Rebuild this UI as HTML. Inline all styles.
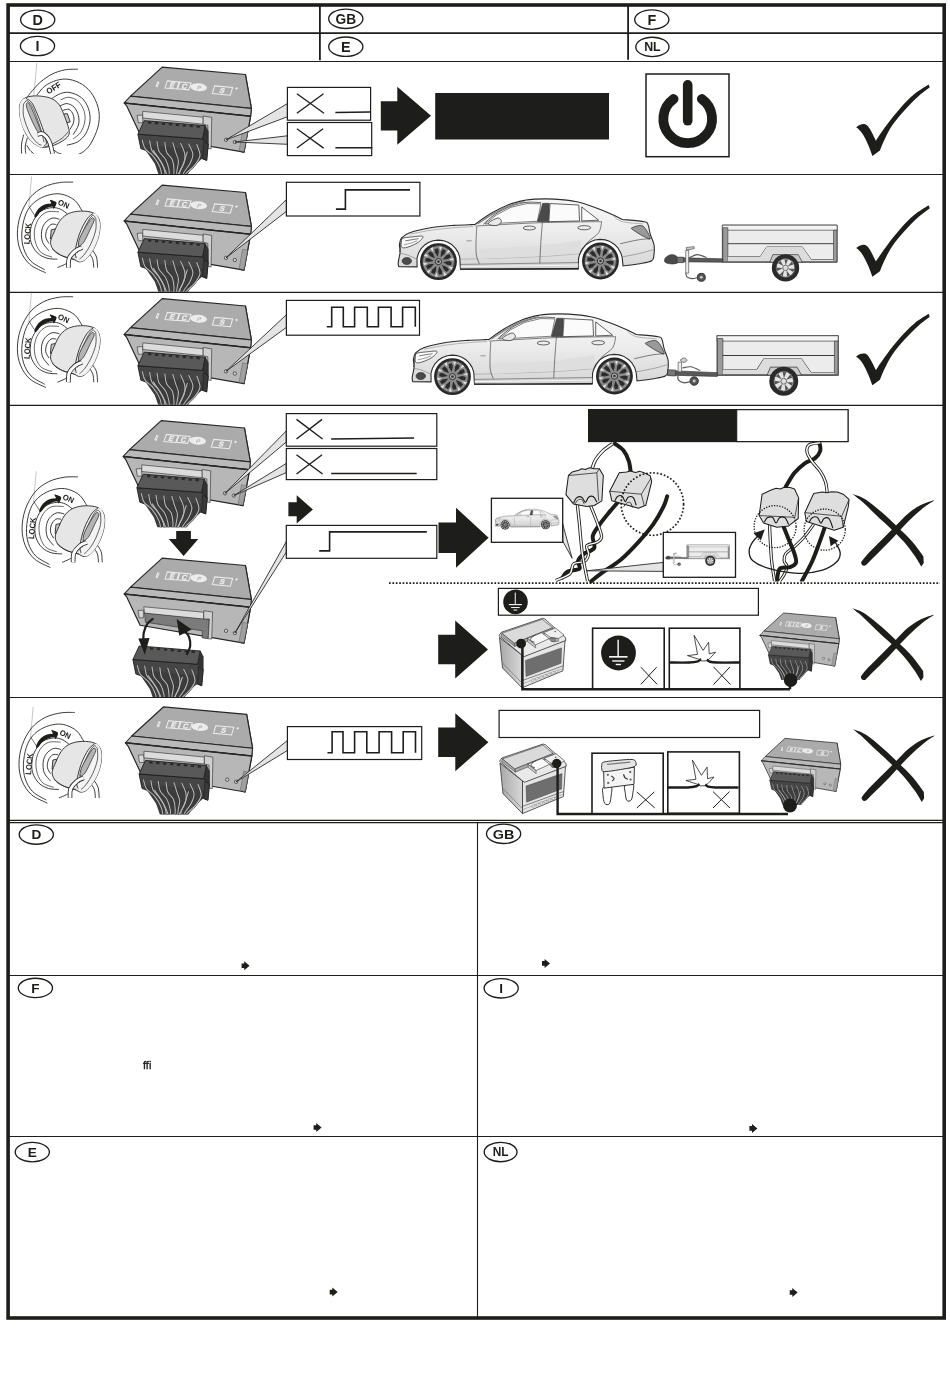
<!DOCTYPE html>
<html><head><meta charset="utf-8"><title>ECS</title>
<style>
html,body{margin:0;padding:0;background:#fff;}
body{width:950px;height:1378px;overflow:hidden;font-family:"Liberation Sans",sans-serif;}
svg{display:block;position:absolute;left:0;top:0;will-change:transform;font-family:"Liberation Sans",sans-serif;}
</style></head><body>
<svg width="950" height="1378" viewBox="0 0 950 1378">
<defs>
<clipPath id="cr1"><rect x="10" y="62" width="932" height="111.9"/></clipPath>
<clipPath id="cr2"><rect x="10" y="175" width="932" height="116.8"/></clipPath>
<clipPath id="cr3"><rect x="10" y="293" width="932" height="111.8"/></clipPath>
<clipPath id="cr4a"><rect x="10" y="406" width="932" height="121.3"/></clipPath>
<clipPath id="cr4b"><rect x="10" y="530" width="932" height="167"/></clipPath>
<clipPath id="cr5"><rect x="10" y="698" width="932" height="116.4"/></clipPath>
<clipPath id="kc1"><rect x="10" y="62" width="110" height="92"/></clipPath>
<g id="keyon"><g transform="translate(10 175) scale(0.10526)" ><path d="M205 15L180 300" fill="none" stroke="#777" stroke-width="4"/><path d="M180 300L235 385" fill="none" stroke="#262626" stroke-width="6"/><path d="M600 68C578.33 68.67 516.67 64.17 470 72C423.33 79.83 366.67 91.17 320 115C273.33 138.83 226.67 170.83 190 215C153.33 259.17 120 322.5 100 380C80 437.5 70 503.33 70 560C70 616.67 80 671.67 100 720C120 768.33 150 815 190 850C230 885 315 916.67 340 930" fill="none" stroke="#262626" stroke-width="8.5"/><path d="M685 340C674.17 324.17 647.5 270 620 245C592.5 220 553.33 200.83 520 190C486.67 179.17 456.67 175.83 420 180C383.33 184.17 336.67 196.67 300 215C263.33 233.33 226.67 259.17 200 290C173.33 320.83 154.67 355 140 400C125.33 445 113.67 510 112 560C110.33 610 115.33 656.67 130 700C144.67 743.33 166.67 786.67 200 820C233.33 853.33 308.33 886.67 330 900" fill="none" stroke="#262626" stroke-width="8.5"/><path d="M545 370C534.17 362.5 504.17 335 480 325C455.83 315 430 307.5 400 310C370 312.5 328.33 321.67 300 340C271.67 358.33 247.5 390 230 420C212.5 450 200 483.33 195 520C190 556.67 189.17 603.33 200 640C210.83 676.67 235 715 260 740C285 765 318.33 780 350 790C381.67 800 433.33 798.33 450 800" fill="none" stroke="#262626" stroke-width="8.5"/><path d="M465 350C445.83 350.33 382.5 340.33 350 352C317.5 363.67 289.67 390.33 270 420C250.33 449.67 236.17 491.67 232 530C227.83 568.33 233.67 615 245 650C256.33 685 274.17 718.33 300 740C325.83 761.67 383.33 773.33 400 780" fill="none" stroke="#262626" stroke-width="6.8"/><path d="M470 420C458.33 418.33 423.33 403.33 400 410C376.67 416.67 346.67 438.33 330 460C313.33 481.67 303.33 510 300 540C296.67 570 298.33 610 310 640C321.67 670 360 706.67 370 720" fill="none" stroke="#262626" stroke-width="8.5"/><path d="M440 470C431.67 470 405 461.67 390 470C375 478.33 358.33 500 350 520C341.67 540 336.67 568.33 340 590C343.33 611.67 365 640 370 650" fill="none" stroke="#262626" stroke-width="8.5"/><path d="M392 520L432 512L420 600L384 608Z" fill="#c8c8c8" stroke="#262626" stroke-width="8.5"/><path d="M232 388C235.33 374.67 253.67 338 270 320C286.33 302 309.67 288.67 330 280C350.33 271.33 383.67 275 392 268C400.33 261 372 239 380 238C388 237 433.67 248.67 440 262C446.33 275.33 424 311.67 418 318C412 324.33 417 300 404 300C391 300 359 309.67 340 318C321 326.33 305 336.33 290 350C275 363.67 259.67 393.67 250 400C240.33 406.33 228.67 401.33 232 388Z" fill="#1d1d1b"/><path d="M378 234L442 262L416 322Z" fill="#1d1d1b"/><path d="M450 880C461.67 875 503.67 858.67 520 850C536.33 841.33 543.33 831.67 548 828" fill="none" stroke="#262626" stroke-width="8.5"/><path d="M780 710C787 721.67 813.33 751.67 822 780C830.67 808.33 830.33 863.33 832 880" fill="none" stroke="#262626" stroke-width="8.5"/><path d="M748 740C754.33 750 778 776.67 786 800C794 823.33 794.33 866.67 796 880" fill="none" stroke="#262626" stroke-width="8.5"/><path d="M385 640C385 610 405.83 573.33 420 540C434.17 506.67 450 467.5 470 440C490 412.5 511.67 390.83 540 375C568.33 359.17 603.33 349.17 640 345C676.67 340.83 728.33 342.5 760 350C791.67 357.5 814.17 370 830 390C845.83 410 853.33 436.67 855 470C856.67 503.33 850.83 550 840 590C829.17 630 810 675 790 710C770 745 741.67 780.83 720 800C698.33 819.17 680 825 660 825C640 825 626.67 809.17 600 800C573.33 790.83 530 783.33 500 770C470 756.67 439.17 741.67 420 720C400.83 698.33 385 670 385 640Z" fill="#e6e6e6" stroke="#262626" stroke-width="8.5"/><path d="M790 365C773 369.67 751.67 387.5 730 420C708.33 452.5 678.33 510 660 560C641.67 610 625 681.67 620 720C615 758.33 623 773 630 790C637 807 647 820.33 662 822C677 823.67 698.67 818.67 720 800C741.33 781.33 770 745 790 710C810 675 829.17 630 840 590C850.83 550 856.33 503 855 470C853.67 437 842.83 409.5 832 392C821.17 374.5 807 360.33 790 365Z" fill="#f3f3f3"/><path d="M790 365C780 374.17 751.67 387.5 730 420C708.33 452.5 678.33 510 660 560C641.67 610 625 681.67 620 720C615 758.33 628.33 778.33 630 790" fill="none" stroke="#262626" stroke-width="8.5"/><path d="M815 410C810 405.83 798.33 378.33 785 385C771.67 391.67 755 412.5 735 450C715 487.5 680.83 561.67 665 610C649.17 658.33 644.17 718.33 640 740" fill="none" stroke="#262626" stroke-width="6.8"/><path d="M815 410C815 428.33 822.5 480 815 520C807.5 560 787.5 611.67 770 650C752.5 688.33 728.33 725 710 750C691.67 775 668.33 791.67 660 800" fill="none" stroke="#262626" stroke-width="6.8"/><path d="M775 410C788.33 400 802.5 411.67 800 430C797.5 448.33 776.67 485 760 520C743.33 555 718 614.67 700 640C682 665.33 658.33 678.67 652 672C645.67 665.33 650.67 630.33 662 600C673.33 569.67 701.17 521.67 720 490C738.83 458.33 761.67 420 775 410Z" fill="#b4b4b4" stroke="#262626" stroke-width="6.8"/><path d="M400 700C413.33 710 453.33 745 480 760C506.67 775 538.33 783.33 560 790C581.67 796.67 601.67 798.33 610 800" fill="none" stroke="#262626" stroke-width="6.8"/><path d="M555 880C556.17 865.33 551.17 818.33 562 792C572.83 765.67 599.67 739 620 722C640.33 705 673.33 695.33 684 690" fill="none" stroke="#262626" stroke-width="44"/><path d="M555 880C556.17 865.33 551.17 818.33 562 792C572.83 765.67 599.67 739 620 722C640.33 705 673.33 695.33 684 690" fill="none" stroke="#fff" stroke-width="28"/></g><text transform="translate(57.3 204.2) rotate(24)" font-size="8" font-weight="bold" fill="#1d1d1b" textLength="11.5" lengthAdjust="spacingAndGlyphs">ON</text><text transform="translate(29.4 244.6) rotate(-85)" font-size="8.2" font-weight="bold" fill="#1d1d1b" textLength="21.5" lengthAdjust="spacingAndGlyphs">LOCK</text></g>
<clipPath id="kc2"><rect x="10" y="175" width="110" height="98.5"/></clipPath>
<clipPath id="kc5"><rect x="10" y="698.2" width="110" height="120"/></clipPath>
<linearGradient id="carg" x1="0" y1="0" x2="0" y2="1"><stop offset="0" stop-color="#f8f8f8"/><stop offset="0.45" stop-color="#ededed"/><stop offset="1" stop-color="#d6d6d6"/></linearGradient>
<g id="car"><g transform="translate(395 190) scale(0.14736)" ><path d="M25 520C24.5 515 20.33 506.67 22 490C23.67 473.33 33.67 440 35 420C36.33 400 28.33 385.83 30 370C31.67 354.17 33.33 338.33 45 325C56.67 311.67 65.83 301.67 100 290C134.17 278.33 200 263.33 250 255C300 246.67 355 243.33 400 240C445 236.67 496.67 235.83 520 235C543.33 234.17 536.67 235 540 235C558.33 222.5 611.67 182.5 650 160C688.33 137.5 731.67 115 770 100C808.33 85 850 76.33 880 70C910 63.67 916.3 63.33 950 62C983.7 60.67 1035.17 59 1082.2 62C1129.23 65 1185.53 70.33 1232.2 80C1278.87 89.67 1320.53 105 1362.2 120C1403.87 135 1452.2 156.67 1482.2 170C1512.2 183.33 1532.2 195 1542.2 200C1567.2 202.5 1663.03 209.17 1692.2 215C1721.37 220.83 1710.53 220.83 1717.2 235C1723.87 249.17 1725.53 277.5 1732.2 300C1738.87 322.5 1753.03 346.67 1757.2 370C1761.37 393.33 1759.7 421.67 1757.2 440C1754.7 458.33 1758.03 470 1742.2 480C1726.37 490 1694.7 494.17 1662.2 500C1629.7 505.83 1566.37 512.5 1547.2 515L1541.92 458.95L1531.76 425.19L1514 394.73L1489.61 369.26L1459.96 350.18L1426.67 338.56L1391.58 335.02L1356.64 339.78L1323.78 352.56L1294.81 372.66L1271.33 398.96L1254.64 430.02L1245.66 464.12L1244.2 535L445 538L443 520L439.77 457.23L428.95 425.06L411.09 396.21L387.13 372.17L358.33 354.23L326.19 343.32L292.42 340.02L258.78 344.5L227.04 356.52L198.88 375.46L175.77 400.31L158.93 429.78L149.25 462.3L150 522L25 520Z" fill="url(#carg)" stroke="#2c2c2c" stroke-width="7.5" stroke-linejoin="round"/><path d="M445 505L1244.2 492L1244.2 535L445 538Z" fill="#d4d4d4" stroke="#2c2c2c" stroke-width="3"/><path d="M443 537L1246.2 534" fill="none" stroke="#222" stroke-width="8"/><path d="M445 520L1244.2 510" fill="none" stroke="#fff" stroke-width="5"/><path d="M445 470C487.5 468.67 610.47 465 700 462C789.53 459 901.83 456 982.2 452C1062.57 448 1137.2 441.33 1182.2 438C1227.2 434.67 1240.53 433 1252.2 432" fill="none" stroke="#9a9a9a" stroke-width="4"/><path d="M560 400L982.2 380L1262.2 340L1252.2 430L982.2 450L560 468Z" fill="#dedede"/><path d="M600 232C613.33 220.83 650 185 680 165C710 145 745 125.5 780 112C815 98.5 854.63 88.33 890 84C925.37 79.67 975.17 85.67 992.2 86" fill="none" stroke="#2c2c2c" stroke-width="5"/><path d="M612 230L690 168L785 118L895 92L990.2 94L966.2 212L700 226Z" fill="#fbfbfb" stroke="#2c2c2c" stroke-width="4"/><path d="M560 230C576.67 219.17 625 185 660 165C695 145 733.33 124.17 770 110C806.67 95.83 861.67 85 880 80" fill="none" stroke="#888" stroke-width="10"/><path d="M1002.2 90L1047.2 90L1042.2 215L967.2 215Z" fill="#4a4a4a" stroke="#222" stroke-width="3"/><path d="M1052.2 92L1247.2 102L1252.2 210L1044.2 215Z" fill="#fbfbfb" stroke="#2c2c2c" stroke-width="5"/><path d="M1267.2 115L1382.2 205L1267.2 210Z" fill="#fbfbfb" stroke="#2c2c2c" stroke-width="5"/><path d="M545 245C570.83 243.5 627.13 239.83 700 236C772.87 232.17 885.17 225.33 982.2 222C1079.23 218.67 1212.2 217.17 1282.2 216C1352.2 214.83 1382.2 215.17 1402.2 215" fill="none" stroke="#2c2c2c" stroke-width="4"/><path d="M555 250C554.17 266.67 550.5 318.33 550 350C549.5 381.67 548.33 415 552 440C555.67 465 568.67 490 572 500" fill="none" stroke="#2c2c2c" stroke-width="4"/><path d="M1000.2 218C998.53 240 993.2 303.83 990.2 350C987.2 396.17 983.53 470.83 982.2 495" fill="none" stroke="#2c2c2c" stroke-width="4"/><path d="M1402.2 215C1398.87 227.5 1398.87 265.83 1382.2 290C1365.53 314.17 1323.53 335 1302.2 360C1280.87 385 1262.2 426.67 1254.2 440" fill="none" stroke="#2c2c2c" stroke-width="4"/><ellipse cx="912" cy="258" rx="42" ry="13" fill="#efefef" stroke="#2c2c2c" stroke-width="5"/><ellipse cx="1284.2" cy="256" rx="44" ry="14" fill="#efefef" stroke="#2c2c2c" stroke-width="5"/><path d="M640 218C649.67 210.33 686.33 190.5 700 190C713.67 189.5 723.33 206.67 722 215C720.67 223.33 705.33 236.5 692 240C678.67 243.5 650.67 239.67 642 236C633.33 232.33 630.33 225.67 640 218Z" fill="#e8e8e8" stroke="#2c2c2c" stroke-width="5"/><path d="M45 332C58.33 321.67 95.83 320.67 120 318C144.17 315.33 185 309 190 316C195 323 170 347.33 150 360C130 372.67 88.33 388.67 70 392C51.67 395.33 44.17 390 40 380C35.83 370 31.67 342.33 45 332Z" fill="#fafafa" stroke="#2c2c2c" stroke-width="5"/><path d="M70 345C80 343.33 115 337.5 130 335C145 332.5 155 330.83 160 330" fill="none" stroke="#444" stroke-width="5"/><path d="M60 372C68.33 370 95 364.5 110 360C125 355.5 143.33 347.5 150 345" fill="none" stroke="#555" stroke-width="4"/><path d="M45 332C44.17 340 42.5 365.33 40 380C37.5 394.67 31.67 413.33 30 420" fill="none" stroke="#2c2c2c" stroke-width="5"/><path d="M100 300C125 295.33 200 279.33 250 272C300 264.67 353.33 260 400 256C446.67 252 508.33 249.33 530 248" fill="none" stroke="#8a8a8a" stroke-width="4"/><ellipse cx="80" cy="482" rx="32" ry="24" fill="#4a4a4a" stroke="#222" stroke-width="4"/><path d="M32 430C40 431.67 60.33 433.33 80 440C99.67 446.67 138.33 465 150 470" fill="none" stroke="#777" stroke-width="4"/><path d="M485 345L520 345" fill="none" stroke="#888" stroke-width="6"/><path d="M1607.2 257C1617.2 252 1661.37 232.83 1682.2 245C1703.03 257.17 1732.2 318.83 1732.2 330C1732.2 341.17 1700.53 321.17 1682.2 312C1663.87 302.83 1634.7 284.17 1622.2 275C1609.7 265.83 1597.2 262 1607.2 257Z" fill="#9a9a9a" stroke="#2c2c2c" stroke-width="5"/><path d="M1527.2 365C1546.37 360.83 1608.03 345.83 1642.2 340C1676.37 334.17 1717.2 331.67 1732.2 330" fill="none" stroke="#2c2c2c" stroke-width="4"/><path d="M1537.2 455C1558.03 450.83 1626.03 438.33 1662.2 430C1698.37 421.67 1738.87 409.17 1754.2 405" fill="none" stroke="#777" stroke-width="4"/><path d="M1482.2 178C1492.2 184.17 1508.87 206.33 1542.2 215C1575.53 223.67 1658.87 227.5 1682.2 230" fill="none" stroke="#888" stroke-width="4"/><circle cx="295" cy="486" r="125" fill="#262626"/><circle cx="295" cy="486" r="108.75" fill="#8a8a8a"/><path d="M327.14 490.86L362.42 482.63L384.98 487.8L381.49 510.87L358.41 509.15Z" fill="#2b2b2b"/><path d="M362.06 519.58L394.28 523.84L384.79 542.81Z" fill="#e2e2e2"/><path d="M318.14 508.82L351.52 522.9L366.74 540.35L350.36 556.96L332.69 542Z" fill="#2b2b2b"/><path d="M329.52 552.58L353.08 574.97L334.24 584.74Z" fill="#e2e2e2"/><path d="M300.31 518.06L319.04 549.07L321.09 572.13L298.07 575.95L292.58 553.46Z" fill="#2b2b2b"/><path d="M283.79 560.16L289.69 592.12L268.71 588.95Z" fill="#e2e2e2"/><path d="M280.45 515.06L277.38 551.16L265.48 571.02L244.62 560.58L253.39 539.15Z" fill="#2b2b2b"/><path d="M242.34 539.41L228.33 568.73L213.22 553.83Z" fill="#e2e2e2"/><path d="M266.15 500.96L242.44 528.36L221.15 537.43L210.4 516.72L230.1 504.54Z" fill="#2b2b2b"/><path d="M221.01 498.26L192.44 513.74L188.97 492.81Z" fill="#e2e2e2"/><path d="M262.86 481.14L227.58 489.37L205.02 484.2L208.51 461.13L231.59 462.85Z" fill="#2b2b2b"/><path d="M227.94 452.42L195.72 448.16L205.21 429.19Z" fill="#e2e2e2"/><path d="M271.86 463.18L238.48 449.1L223.26 431.65L239.64 415.04L257.31 430Z" fill="#2b2b2b"/><path d="M260.48 419.42L236.92 397.03L255.76 387.26Z" fill="#e2e2e2"/><path d="M289.69 453.94L270.96 422.93L268.91 399.87L291.93 396.05L297.42 418.54Z" fill="#2b2b2b"/><path d="M306.21 411.84L300.31 379.88L321.29 383.05Z" fill="#e2e2e2"/><path d="M309.55 456.94L312.62 420.84L324.52 400.98L345.38 411.42L336.61 432.85Z" fill="#2b2b2b"/><path d="M347.66 432.59L361.67 403.27L376.78 418.17Z" fill="#e2e2e2"/><path d="M323.85 471.04L347.56 443.64L368.85 434.57L379.6 455.28L359.9 467.46Z" fill="#2b2b2b"/><path d="M368.99 473.74L397.56 458.26L401.03 479.19Z" fill="#e2e2e2"/><circle cx="295" cy="486" r="108.75" fill="none" stroke="#333" stroke-width="5"/><circle cx="295" cy="486" r="21.25" fill="#a8a8a8" stroke="#2a2a2a" stroke-width="6.25"/><circle cx="295" cy="486" r="8.75" fill="#333"/><circle cx="1394.2" cy="482" r="125" fill="#262626"/><circle cx="1394.2" cy="482" r="108.75" fill="#8a8a8a"/><path d="M1426.34 486.86L1461.62 478.63L1484.18 483.8L1480.69 506.87L1457.61 505.15Z" fill="#2b2b2b"/><path d="M1461.26 515.58L1493.48 519.84L1483.99 538.81Z" fill="#e2e2e2"/><path d="M1417.34 504.82L1450.72 518.9L1465.94 536.35L1449.56 552.96L1431.89 538Z" fill="#2b2b2b"/><path d="M1428.72 548.58L1452.28 570.97L1433.44 580.74Z" fill="#e2e2e2"/><path d="M1399.51 514.06L1418.24 545.07L1420.29 568.13L1397.27 571.95L1391.78 549.46Z" fill="#2b2b2b"/><path d="M1382.99 556.16L1388.89 588.12L1367.91 584.95Z" fill="#e2e2e2"/><path d="M1379.65 511.06L1376.58 547.16L1364.68 567.02L1343.82 556.58L1352.59 535.15Z" fill="#2b2b2b"/><path d="M1341.54 535.41L1327.53 564.73L1312.42 549.83Z" fill="#e2e2e2"/><path d="M1365.35 496.96L1341.64 524.36L1320.35 533.43L1309.6 512.72L1329.3 500.54Z" fill="#2b2b2b"/><path d="M1320.21 494.26L1291.64 509.74L1288.17 488.81Z" fill="#e2e2e2"/><path d="M1362.06 477.14L1326.78 485.37L1304.22 480.2L1307.71 457.13L1330.79 458.85Z" fill="#2b2b2b"/><path d="M1327.14 448.42L1294.92 444.16L1304.41 425.19Z" fill="#e2e2e2"/><path d="M1371.06 459.18L1337.68 445.1L1322.46 427.65L1338.84 411.04L1356.51 426Z" fill="#2b2b2b"/><path d="M1359.68 415.42L1336.12 393.03L1354.96 383.26Z" fill="#e2e2e2"/><path d="M1388.89 449.94L1370.16 418.93L1368.11 395.87L1391.13 392.05L1396.62 414.54Z" fill="#2b2b2b"/><path d="M1405.41 407.84L1399.51 375.88L1420.49 379.05Z" fill="#e2e2e2"/><path d="M1408.75 452.94L1411.82 416.84L1423.72 396.98L1444.58 407.42L1435.81 428.85Z" fill="#2b2b2b"/><path d="M1446.86 428.59L1460.87 399.27L1475.98 414.17Z" fill="#e2e2e2"/><path d="M1423.05 467.04L1446.76 439.64L1468.05 430.57L1478.8 451.28L1459.1 463.46Z" fill="#2b2b2b"/><path d="M1468.19 469.74L1496.76 454.26L1500.23 475.19Z" fill="#e2e2e2"/><circle cx="1394.2" cy="482" r="108.75" fill="none" stroke="#333" stroke-width="5"/><circle cx="1394.2" cy="482" r="21.25" fill="#a8a8a8" stroke="#2a2a2a" stroke-width="6.25"/><circle cx="1394.2" cy="482" r="8.75" fill="#333"/></g></g>
<g id="trbox"><g transform="translate(655 210) scale(0.21053)" ><path d="M320 72L865 72L865 248L320 248Z" fill="#ececec" stroke="#3a3a3a" stroke-width="4.5"/><path d="M320 72L865 72L865 96L320 96Z" fill="#f4f4f4" stroke="#3a3a3a" stroke-width="3"/><path d="M322 84L346 84L346 246L322 246Z" fill="#9b9b9b" stroke="#3a3a3a" stroke-width="3"/><path d="M848 96L864 96L864 246L848 246Z" fill="#9b9b9b" stroke="#3a3a3a" stroke-width="3"/><path d="M346 160L848 160" fill="none" stroke="#3a3a3a" stroke-width="4.5"/><path d="M346 222L500 222L530 176L700 176L742 236L848 236" fill="none" stroke="#3a3a3a" stroke-width="4.5"/><path d="M346 222L500 222L530 176L700 176L742 236L848 236L848 246L346 246Z" fill="#dcdcdc"/><path d="M346 246L848 246" fill="none" stroke="#3a3a3a" stroke-width="4"/><path d="M545 248L560 212L680 212L700 248Z" fill="#c9c9c9" stroke="#3a3a3a" stroke-width="3.5"/><circle cx="620" cy="275" r="65" fill="#2a2a2a"/><circle cx="620" cy="275" r="44.2" fill="#e4e4e4" stroke="#555" stroke-width="3.9"/><path d="M632.42 278.84L661.39 279.15L656.51 294.94Z" fill="#555"/><path d="M624.74 287.11L642.56 309.95L627.17 315.98Z" fill="#555"/><path d="M613.49 286.25L606.74 314.43L592.43 306.15Z" fill="#555"/><path d="M607.14 276.93L580.9 289.22L578.45 272.87Z" fill="#555"/><path d="M610.48 266.15L584.51 253.3L595.76 241.19Z" fill="#555"/><path d="M620.98 262.04L614.84 233.72L631.32 234.97Z" fill="#555"/><path d="M630.75 267.69L649.05 245.23L658.35 258.89Z" fill="#555"/><circle cx="620" cy="275" r="13" fill="#ddd" stroke="#444" stroke-width="3.25"/></g></g>
<clipPath id="cr4w"><rect x="740" y="436" width="150" height="145.5"/></clipPath>
<linearGradient id="batl" x1="0" y1="0" x2="1" y2="0"><stop offset="0" stop-color="#a8a8a8"/><stop offset="1" stop-color="#d8d8d8"/></linearGradient>
<g id="batt"><g transform="translate(490 610) scale(0.09473)" ><path d="M100 290L338 478L338 822L132 612Z" fill="url(#batl)" stroke="#2a2a2a" stroke-width="8" stroke-linejoin="round"/><path d="M338 478L792 322L770 642L338 822Z" fill="#e6e6e6" stroke="#2a2a2a" stroke-width="8" stroke-linejoin="round"/><path d="M375 532L755 400L750 562L380 702Z" fill="#6e6e6e" stroke="#444" stroke-width="5"/><path d="M340 745L770 590" fill="none" stroke="#2a2a2a" stroke-width="6"/><path d="M340 780L770 618" fill="none" stroke="#777" stroke-width="5"/><path d="M440 735L466 725L466 747L440 757Z" fill="#fafafa" stroke="#555" stroke-width="4"/><path d="M482 719.5L508 709.5L508 731.5L482 741.5Z" fill="#fafafa" stroke="#555" stroke-width="4"/><path d="M524 704L550 694L550 716L524 726Z" fill="#fafafa" stroke="#555" stroke-width="4"/><path d="M566 688.5L592 678.5L592 700.5L566 710.5Z" fill="#fafafa" stroke="#555" stroke-width="4"/><path d="M608 673L634 663L634 685L608 695Z" fill="#fafafa" stroke="#555" stroke-width="4"/><path d="M650 657.5L676 647.5L676 669.5L650 679.5Z" fill="#fafafa" stroke="#555" stroke-width="4"/><path d="M692 642L718 632L718 654L692 664Z" fill="#fafafa" stroke="#555" stroke-width="4"/><path d="M132 560L338 770" fill="none" stroke="#666" stroke-width="6"/><path d="M95 270L120 235L555 88L580 95L797 292L800 322L360 492L332 472Z" fill="#e9e9e9" stroke="#2a2a2a" stroke-width="8" stroke-linejoin="round"/><path d="M125 245L552 98L662 188L255 352Z" fill="#dadada" stroke="#2a2a2a" stroke-width="6" stroke-linejoin="round"/><path d="M255 352L662 188L668 215L262 385Z" fill="#a8a8a8" stroke="#2a2a2a" stroke-width="5"/><path d="M125 245L255 352L262 385L118 275Z" fill="#a8a8a8" stroke="#2a2a2a" stroke-width="5"/><path d="M565 238L692 190L782 265L722 302L640 290Z" fill="#efefef" stroke="#2a2a2a" stroke-width="6" stroke-linejoin="round"/><path d="M640 290L722 302L722 330L650 330Z" fill="#bbb" stroke="#2a2a2a" stroke-width="5"/><path d="M395 300L545 240L625 302L480 368Z" fill="#fafafa" stroke="#2a2a2a" stroke-width="6" stroke-linejoin="round"/><path d="M395 300L480 368L482 400L398 335Z" fill="#c8c8c8" stroke="#2a2a2a" stroke-width="5"/><path d="M480 262C473.33 266.67 448.33 280.33 440 290C431.67 299.67 425 311.67 430 320C435 328.33 463.33 336.67 470 340" fill="none" stroke="#444" stroke-width="10"/><path d="M620 300L690 300L690 335L650 335Z" fill="#888" stroke="#2a2a2a" stroke-width="4"/><circle cx="688" cy="228" r="8" fill="#555"/></g></g>
<clipPath id="crs4"><rect x="740" y="585" width="200" height="95"/></clipPath>
<clipPath id="crs5"><rect x="740" y="700" width="200" height="105"/></clipPath>
</defs>
<rect x="8.1" y="5" width="936.1" height="1313" fill="none" stroke="#1d1d1b" stroke-width="3.6"/>
<line x1="8" y1="33.1" x2="944" y2="33.1" stroke="#1d1d1b" stroke-width="1.8"/>
<line x1="8" y1="61.5" x2="944" y2="61.5" stroke="#1d1d1b" stroke-width="1.1"/>
<line x1="319.9" y1="6" x2="319.9" y2="60.3" stroke="#1d1d1b" stroke-width="1.8"/>
<line x1="628.1" y1="6" x2="628.1" y2="59.7" stroke="#1d1d1b" stroke-width="1.8"/>
<line x1="8" y1="174.5" x2="944" y2="174.5" stroke="#1d1d1b" stroke-width="1.1"/>
<line x1="8" y1="292.4" x2="944" y2="292.4" stroke="#1d1d1b" stroke-width="1.1"/>
<line x1="8" y1="405.4" x2="944" y2="405.4" stroke="#1d1d1b" stroke-width="1.1"/>
<line x1="8" y1="697.5" x2="944" y2="697.5" stroke="#1d1d1b" stroke-width="1.1"/>
<line x1="8" y1="820.4" x2="944" y2="820.4" stroke="#1d1d1b" stroke-width="1.1"/>
<line x1="8" y1="822.6" x2="944" y2="822.6" stroke="#1d1d1b" stroke-width="1.1"/>
<line x1="477.5" y1="822" x2="477.5" y2="1317" stroke="#1d1d1b" stroke-width="1.1"/>
<line x1="8" y1="975.5" x2="944" y2="975.5" stroke="#1d1d1b" stroke-width="1.1"/>
<line x1="8" y1="1136.5" x2="944" y2="1136.5" stroke="#1d1d1b" stroke-width="1.1"/>
<ellipse cx="37.7" cy="19.8" rx="17.1" ry="9.7" fill="#fff" stroke="#1d1d1b" stroke-width="1.35"/><text x="37.7" y="24.98" font-size="14.4" font-weight="bold" text-anchor="middle" fill="#1d1d1b">D</text>
<ellipse cx="37.5" cy="46" rx="17.1" ry="9.7" fill="#fff" stroke="#1d1d1b" stroke-width="1.35"/><text x="37.5" y="51.18" font-size="14.4" font-weight="bold" text-anchor="middle" fill="#1d1d1b">I</text>
<ellipse cx="345.8" cy="18.8" rx="17.1" ry="9.7" fill="#fff" stroke="#1d1d1b" stroke-width="1.35"/><text x="345.8" y="24.06" font-size="14.6" font-weight="bold" text-anchor="middle" fill="#1d1d1b" textLength="20.6" lengthAdjust="spacingAndGlyphs">GB</text>
<ellipse cx="345.8" cy="46.7" rx="17.1" ry="9.7" fill="#fff" stroke="#1d1d1b" stroke-width="1.35"/><text x="345.8" y="51.88" font-size="14.4" font-weight="bold" text-anchor="middle" fill="#1d1d1b">E</text>
<ellipse cx="651.8" cy="19.6" rx="17.1" ry="9.7" fill="#fff" stroke="#1d1d1b" stroke-width="1.35"/><text x="651.8" y="24.78" font-size="14.4" font-weight="bold" text-anchor="middle" fill="#1d1d1b">F</text>
<ellipse cx="652.4" cy="46.9" rx="16.6" ry="9.7" fill="#fff" stroke="#1d1d1b" stroke-width="1.35"/><text x="652.4" y="51.36" font-size="12.4" font-weight="bold" text-anchor="middle" fill="#1d1d1b">NL</text>
<ellipse cx="36.3" cy="834.5" rx="17.1" ry="9.7" fill="#fff" stroke="#1d1d1b" stroke-width="1.35"/><text x="36.3" y="839.4" font-size="13.6" font-weight="bold" text-anchor="middle" fill="#1d1d1b">D</text>
<ellipse cx="503.6" cy="833.8" rx="17.1" ry="9.7" fill="#fff" stroke="#1d1d1b" stroke-width="1.35"/><text x="503.6" y="838.7" font-size="13.6" font-weight="bold" text-anchor="middle" fill="#1d1d1b" textLength="21.5" lengthAdjust="spacingAndGlyphs">GB</text>
<ellipse cx="35.4" cy="987.9" rx="17.1" ry="9.7" fill="#fff" stroke="#1d1d1b" stroke-width="1.35"/><text x="35.4" y="992.8" font-size="13.6" font-weight="bold" text-anchor="middle" fill="#1d1d1b">F</text>
<ellipse cx="501.2" cy="988.3" rx="17.1" ry="9.7" fill="#fff" stroke="#1d1d1b" stroke-width="1.35"/><text x="501.2" y="993.2" font-size="13.6" font-weight="bold" text-anchor="middle" fill="#1d1d1b">I</text>
<ellipse cx="32.3" cy="1152.1" rx="17.1" ry="9.7" fill="#fff" stroke="#1d1d1b" stroke-width="1.35"/><text x="32.3" y="1157" font-size="13.6" font-weight="bold" text-anchor="middle" fill="#1d1d1b">E</text>
<ellipse cx="500.6" cy="1152" rx="16.4" ry="9.7" fill="#fff" stroke="#1d1d1b" stroke-width="1.35"/><text x="500.6" y="1156.28" font-size="11.9" font-weight="bold" text-anchor="middle" fill="#1d1d1b">NL</text>
<path d="M241.6 963.5L244.2 963.5L244.2 961.3L249.6 965.8L244.2 970.3L244.2 968.1L241.6 968.1Z" fill="#1d1d1b"/>
<path d="M542 961.1L544.6 961.1L544.6 958.9L550 963.4L544.6 967.9L544.6 965.7L542 965.7Z" fill="#1d1d1b"/>
<path d="M313.6 1125.2L316.2 1125.2L316.2 1123L321.6 1127.5L316.2 1132L316.2 1129.8L313.6 1129.8Z" fill="#1d1d1b"/>
<path d="M749.4 1126.1L752 1126.1L752 1123.9L757.4 1128.4L752 1132.9L752 1130.7L749.4 1130.7Z" fill="#1d1d1b"/>
<path d="M329.7 1289.8L332.3 1289.8L332.3 1287.6L337.7 1292.1L332.3 1296.6L332.3 1294.4L329.7 1294.4Z" fill="#1d1d1b"/>
<path d="M789.7 1290.2L792.3 1290.2L792.3 1288L797.7 1292.5L792.3 1297L792.3 1294.8L789.7 1294.8Z" fill="#1d1d1b"/>
<text x="143" y="1068.7" font-size="11" fill="#1d1d1b" stroke="#1d1d1b" stroke-width="0.35">ffi</text>
<g clip-path="url(#cr1)"><g transform="translate(118 62) scale(0.14736)" ><path d="M865 85L905 315L900 368L855 612L838 608L868 365L872 318Z" fill="#8c8c8c" stroke="#262626" stroke-width="8" stroke-linejoin="round"/><path d="M300 35L865 85L905 315L85 232Z" fill="#ababab" stroke="#262626" stroke-width="8" stroke-linejoin="round"/><path d="M85 232L905 315L900 368L42 278Z" fill="#b9b9b9" stroke="#262626" stroke-width="7" stroke-linejoin="round"/><path d="M42 278L900 368L855 612L150 490L60 300Z" fill="#b7b7b7" stroke="#262626" stroke-width="8" stroke-linejoin="round"/><path d="M845 470L880 478L855 608L822 602Z" fill="#a0a0a0" stroke="#555" stroke-width="3"/><path d="M42 278L900 368" fill="none" stroke="#262626" stroke-width="9"/><path d="M335 128L415 135.2L399 183.2L319 176Z" fill="none" stroke="#ececec" stroke-width="7"/><path d="M420 136L496 142.84L480 188.84L404 182Z" fill="none" stroke="#ececec" stroke-width="7"/><ellipse cx="547" cy="171" rx="57" ry="27" fill="#ececec" transform="rotate(5 547 171)"/><path d="M656 162L778 172.98L762 224.98L640 214Z" fill="none" stroke="#ececec" stroke-width="7"/><g font-weight="bold" fill="#ececec" font-size="50" stroke="#ececec" stroke-width="2"><text transform="matrix(1 0.09 -0.34 0.95 346 172)">E</text><text transform="matrix(1 0.09 -0.34 0.95 428 180)">C</text><text transform="matrix(1 0.09 -0.34 0.95 686 209)">S</text><text transform="matrix(1 0.09 -0.34 0.95 532 186)" fill="#8a8a8a" font-size="40">P</text><text transform="matrix(0.3 -0.9 0.9 0.3 268 172)" font-size="20">ECS</text><text transform="matrix(1 0.09 -0.34 0.95 792 188)" font-size="30">+</text></g><circle cx="733" cy="528" r="11.5" fill="#d0d0d0" stroke="#262626" stroke-width="4.5"/><circle cx="793" cy="543" r="11.5" fill="#d0d0d0" stroke="#262626" stroke-width="4.5"/><path d="M130 362L168 360L168 412L138 412Z" fill="#d9d9d9" stroke="#262626" stroke-width="4"/><path d="M168 335L578 375L578 422L168 380Z" fill="#dcdcdc" stroke="#262626" stroke-width="4"/><path d="M578 366L636 376L632 590L610 586L610 430L578 422Z" fill="#cfcfcf" stroke="#262626" stroke-width="4"/><path d="M135 490L575 522L612 560L602 668L560 652L545 612L330 596L205 606L155 588Z" fill="#464646" stroke="#1c1c1c" stroke-width="6" stroke-linejoin="round"/><path d="M160 560L590 600L590 640L505 712L448 800L288 800L250 690Z" fill="#3c3c3c"/><path d="M165 530C168.33 540 172.5 571.67 185 590C197.5 608.33 223.33 619.17 240 640C256.67 660.83 274.67 688.33 285 715C295.33 741.67 299.17 785.83 302 800" fill="none" stroke="#2a2a2a" stroke-width="12" stroke-linecap="round"/><path d="M215 535C217.5 545.83 220 580.5 230 600C240 619.5 261.33 631.67 275 652C288.67 672.33 303.83 697.33 312 722C320.17 746.67 322 787 324 800" fill="none" stroke="#2a2a2a" stroke-width="12" stroke-linecap="round"/><path d="M265 540C267.17 551 268.5 586 278 606C287.5 626 310.67 639.33 322 660C333.33 680.67 341.67 706.67 346 730C350.33 753.33 347.67 788.33 348 800" fill="none" stroke="#2a2a2a" stroke-width="12" stroke-linecap="round"/><path d="M318 545C320 556.17 321.67 592.5 330 612C338.33 631.5 359.67 642.33 368 662C376.33 681.67 379 707 380 730C381 753 375 788.33 374 800" fill="none" stroke="#2a2a2a" stroke-width="12" stroke-linecap="round"/><path d="M372 548C375.33 559.17 385.67 594.67 392 615C398.33 635.33 408.67 649.5 410 670C411.33 690.5 402.67 716.33 400 738C397.33 759.67 395 789.67 394 800" fill="none" stroke="#2a2a2a" stroke-width="12" stroke-linecap="round"/><path d="M425 552C429.5 563.33 447.83 598.67 452 620C456.17 641.33 455 660 450 680C445 700 428.33 720 422 740C415.67 760 413.67 790 412 800" fill="none" stroke="#2a2a2a" stroke-width="12" stroke-linecap="round"/><path d="M480 556C484.67 567.5 506.67 602.67 508 625C509.33 647.33 498 669.5 488 690C478 710.5 458.33 729.67 448 748C437.67 766.33 429.67 791.33 426 800" fill="none" stroke="#2a2a2a" stroke-width="12" stroke-linecap="round"/><path d="M535 560C538.5 572.5 558.5 611.67 556 635C553.5 658.33 535.67 679.83 520 700C504.33 720.17 475.33 739.33 462 756C448.67 772.67 443.67 792.67 440 800" fill="none" stroke="#2a2a2a" stroke-width="12" stroke-linecap="round"/><path d="M240 600C250 615 285 663.33 300 690C315 716.67 324 741.67 330 760C336 778.33 335 793.33 336 800" fill="none" stroke="#2a2a2a" stroke-width="12" stroke-linecap="round"/><path d="M470 610C465 625 450.83 673.33 440 700C429.17 726.67 411.67 753.33 405 770C398.33 786.67 400.83 795 400 800" fill="none" stroke="#2a2a2a" stroke-width="12" stroke-linecap="round"/><path d="M165 530C168.33 540 172.5 571.67 185 590C197.5 608.33 223.33 619.17 240 640C256.67 660.83 274.67 688.33 285 715C295.33 741.67 299.17 785.83 302 800" fill="none" stroke="#b4b4b4" stroke-width="8" stroke-linecap="round"/><path d="M215 535C217.5 545.83 220 580.5 230 600C240 619.5 261.33 631.67 275 652C288.67 672.33 303.83 697.33 312 722C320.17 746.67 322 787 324 800" fill="none" stroke="#b4b4b4" stroke-width="8" stroke-linecap="round"/><path d="M265 540C267.17 551 268.5 586 278 606C287.5 626 310.67 639.33 322 660C333.33 680.67 341.67 706.67 346 730C350.33 753.33 347.67 788.33 348 800" fill="none" stroke="#b4b4b4" stroke-width="8" stroke-linecap="round"/><path d="M318 545C320 556.17 321.67 592.5 330 612C338.33 631.5 359.67 642.33 368 662C376.33 681.67 379 707 380 730C381 753 375 788.33 374 800" fill="none" stroke="#b4b4b4" stroke-width="8" stroke-linecap="round"/><path d="M372 548C375.33 559.17 385.67 594.67 392 615C398.33 635.33 408.67 649.5 410 670C411.33 690.5 402.67 716.33 400 738C397.33 759.67 395 789.67 394 800" fill="none" stroke="#b4b4b4" stroke-width="8" stroke-linecap="round"/><path d="M425 552C429.5 563.33 447.83 598.67 452 620C456.17 641.33 455 660 450 680C445 700 428.33 720 422 740C415.67 760 413.67 790 412 800" fill="none" stroke="#b4b4b4" stroke-width="8" stroke-linecap="round"/><path d="M480 556C484.67 567.5 506.67 602.67 508 625C509.33 647.33 498 669.5 488 690C478 710.5 458.33 729.67 448 748C437.67 766.33 429.67 791.33 426 800" fill="none" stroke="#b4b4b4" stroke-width="8" stroke-linecap="round"/><path d="M535 560C538.5 572.5 558.5 611.67 556 635C553.5 658.33 535.67 679.83 520 700C504.33 720.17 475.33 739.33 462 756C448.67 772.67 443.67 792.67 440 800" fill="none" stroke="#b4b4b4" stroke-width="8" stroke-linecap="round"/><path d="M240 600C250 615 285 663.33 300 690C315 716.67 324 741.67 330 760C336 778.33 335 793.33 336 800" fill="none" stroke="#b4b4b4" stroke-width="8" stroke-linecap="round"/><path d="M470 610C465 625 450.83 673.33 440 700C429.17 726.67 411.67 753.33 405 770C398.33 786.67 400.83 795 400 800" fill="none" stroke="#b4b4b4" stroke-width="8" stroke-linecap="round"/><path d="M178 398L592 432L575 522L135 490Z" fill="#595959" stroke="#1c1c1c" stroke-width="6" stroke-linejoin="round"/><path d="M205 402L227 404L225 420L203 418Z" fill="#2a2a2a"/><path d="M252 405.9L274 407.9L272 423.9L250 421.9Z" fill="#2a2a2a"/><path d="M299 409.8L321 411.8L319 427.8L297 425.8Z" fill="#2a2a2a"/><path d="M346 413.7L368 415.7L366 431.7L344 429.7Z" fill="#2a2a2a"/><path d="M393 417.6L415 419.6L413 435.6L391 433.6Z" fill="#2a2a2a"/><path d="M440 421.5L462 423.5L460 439.5L438 437.5Z" fill="#2a2a2a"/><path d="M487 425.4L509 427.4L507 443.4L485 441.4Z" fill="#2a2a2a"/><path d="M534 429.3L556 431.3L554 447.3L532 445.3Z" fill="#2a2a2a"/><path d="M575 522L592 432L612 470L612 560Z" fill="#333" stroke="#1c1c1c" stroke-width="4"/><path d="M612 560L602 668L575 655L580 540Z" fill="#3a3a3a" stroke="#1c1c1c" stroke-width="4"/></g></g>
<g clip-path="url(#cr2)"><g transform="translate(118 180) scale(0.14736)" ><path d="M865 85L905 315L900 368L855 612L838 608L868 365L872 318Z" fill="#8c8c8c" stroke="#262626" stroke-width="8" stroke-linejoin="round"/><path d="M300 35L865 85L905 315L85 232Z" fill="#ababab" stroke="#262626" stroke-width="8" stroke-linejoin="round"/><path d="M85 232L905 315L900 368L42 278Z" fill="#b9b9b9" stroke="#262626" stroke-width="7" stroke-linejoin="round"/><path d="M42 278L900 368L855 612L150 490L60 300Z" fill="#b7b7b7" stroke="#262626" stroke-width="8" stroke-linejoin="round"/><path d="M845 470L880 478L855 608L822 602Z" fill="#a0a0a0" stroke="#555" stroke-width="3"/><path d="M42 278L900 368" fill="none" stroke="#262626" stroke-width="9"/><path d="M335 128L415 135.2L399 183.2L319 176Z" fill="none" stroke="#ececec" stroke-width="7"/><path d="M420 136L496 142.84L480 188.84L404 182Z" fill="none" stroke="#ececec" stroke-width="7"/><ellipse cx="547" cy="171" rx="57" ry="27" fill="#ececec" transform="rotate(5 547 171)"/><path d="M656 162L778 172.98L762 224.98L640 214Z" fill="none" stroke="#ececec" stroke-width="7"/><g font-weight="bold" fill="#ececec" font-size="50" stroke="#ececec" stroke-width="2"><text transform="matrix(1 0.09 -0.34 0.95 346 172)">E</text><text transform="matrix(1 0.09 -0.34 0.95 428 180)">C</text><text transform="matrix(1 0.09 -0.34 0.95 686 209)">S</text><text transform="matrix(1 0.09 -0.34 0.95 532 186)" fill="#8a8a8a" font-size="40">P</text><text transform="matrix(0.3 -0.9 0.9 0.3 268 172)" font-size="20">ECS</text><text transform="matrix(1 0.09 -0.34 0.95 792 188)" font-size="30">+</text></g><circle cx="733" cy="528" r="11.5" fill="#d0d0d0" stroke="#262626" stroke-width="4.5"/><circle cx="793" cy="543" r="11.5" fill="#d0d0d0" stroke="#262626" stroke-width="4.5"/><path d="M130 362L168 360L168 412L138 412Z" fill="#d9d9d9" stroke="#262626" stroke-width="4"/><path d="M168 335L578 375L578 422L168 380Z" fill="#dcdcdc" stroke="#262626" stroke-width="4"/><path d="M578 366L636 376L632 590L610 586L610 430L578 422Z" fill="#cfcfcf" stroke="#262626" stroke-width="4"/><path d="M135 490L575 522L612 560L602 668L560 652L545 612L330 596L205 606L155 588Z" fill="#464646" stroke="#1c1c1c" stroke-width="6" stroke-linejoin="round"/><path d="M160 560L590 600L590 640L505 712L448 800L288 800L250 690Z" fill="#3c3c3c"/><path d="M165 530C168.33 540 172.5 571.67 185 590C197.5 608.33 223.33 619.17 240 640C256.67 660.83 274.67 688.33 285 715C295.33 741.67 299.17 785.83 302 800" fill="none" stroke="#2a2a2a" stroke-width="12" stroke-linecap="round"/><path d="M215 535C217.5 545.83 220 580.5 230 600C240 619.5 261.33 631.67 275 652C288.67 672.33 303.83 697.33 312 722C320.17 746.67 322 787 324 800" fill="none" stroke="#2a2a2a" stroke-width="12" stroke-linecap="round"/><path d="M265 540C267.17 551 268.5 586 278 606C287.5 626 310.67 639.33 322 660C333.33 680.67 341.67 706.67 346 730C350.33 753.33 347.67 788.33 348 800" fill="none" stroke="#2a2a2a" stroke-width="12" stroke-linecap="round"/><path d="M318 545C320 556.17 321.67 592.5 330 612C338.33 631.5 359.67 642.33 368 662C376.33 681.67 379 707 380 730C381 753 375 788.33 374 800" fill="none" stroke="#2a2a2a" stroke-width="12" stroke-linecap="round"/><path d="M372 548C375.33 559.17 385.67 594.67 392 615C398.33 635.33 408.67 649.5 410 670C411.33 690.5 402.67 716.33 400 738C397.33 759.67 395 789.67 394 800" fill="none" stroke="#2a2a2a" stroke-width="12" stroke-linecap="round"/><path d="M425 552C429.5 563.33 447.83 598.67 452 620C456.17 641.33 455 660 450 680C445 700 428.33 720 422 740C415.67 760 413.67 790 412 800" fill="none" stroke="#2a2a2a" stroke-width="12" stroke-linecap="round"/><path d="M480 556C484.67 567.5 506.67 602.67 508 625C509.33 647.33 498 669.5 488 690C478 710.5 458.33 729.67 448 748C437.67 766.33 429.67 791.33 426 800" fill="none" stroke="#2a2a2a" stroke-width="12" stroke-linecap="round"/><path d="M535 560C538.5 572.5 558.5 611.67 556 635C553.5 658.33 535.67 679.83 520 700C504.33 720.17 475.33 739.33 462 756C448.67 772.67 443.67 792.67 440 800" fill="none" stroke="#2a2a2a" stroke-width="12" stroke-linecap="round"/><path d="M240 600C250 615 285 663.33 300 690C315 716.67 324 741.67 330 760C336 778.33 335 793.33 336 800" fill="none" stroke="#2a2a2a" stroke-width="12" stroke-linecap="round"/><path d="M470 610C465 625 450.83 673.33 440 700C429.17 726.67 411.67 753.33 405 770C398.33 786.67 400.83 795 400 800" fill="none" stroke="#2a2a2a" stroke-width="12" stroke-linecap="round"/><path d="M165 530C168.33 540 172.5 571.67 185 590C197.5 608.33 223.33 619.17 240 640C256.67 660.83 274.67 688.33 285 715C295.33 741.67 299.17 785.83 302 800" fill="none" stroke="#b4b4b4" stroke-width="8" stroke-linecap="round"/><path d="M215 535C217.5 545.83 220 580.5 230 600C240 619.5 261.33 631.67 275 652C288.67 672.33 303.83 697.33 312 722C320.17 746.67 322 787 324 800" fill="none" stroke="#b4b4b4" stroke-width="8" stroke-linecap="round"/><path d="M265 540C267.17 551 268.5 586 278 606C287.5 626 310.67 639.33 322 660C333.33 680.67 341.67 706.67 346 730C350.33 753.33 347.67 788.33 348 800" fill="none" stroke="#b4b4b4" stroke-width="8" stroke-linecap="round"/><path d="M318 545C320 556.17 321.67 592.5 330 612C338.33 631.5 359.67 642.33 368 662C376.33 681.67 379 707 380 730C381 753 375 788.33 374 800" fill="none" stroke="#b4b4b4" stroke-width="8" stroke-linecap="round"/><path d="M372 548C375.33 559.17 385.67 594.67 392 615C398.33 635.33 408.67 649.5 410 670C411.33 690.5 402.67 716.33 400 738C397.33 759.67 395 789.67 394 800" fill="none" stroke="#b4b4b4" stroke-width="8" stroke-linecap="round"/><path d="M425 552C429.5 563.33 447.83 598.67 452 620C456.17 641.33 455 660 450 680C445 700 428.33 720 422 740C415.67 760 413.67 790 412 800" fill="none" stroke="#b4b4b4" stroke-width="8" stroke-linecap="round"/><path d="M480 556C484.67 567.5 506.67 602.67 508 625C509.33 647.33 498 669.5 488 690C478 710.5 458.33 729.67 448 748C437.67 766.33 429.67 791.33 426 800" fill="none" stroke="#b4b4b4" stroke-width="8" stroke-linecap="round"/><path d="M535 560C538.5 572.5 558.5 611.67 556 635C553.5 658.33 535.67 679.83 520 700C504.33 720.17 475.33 739.33 462 756C448.67 772.67 443.67 792.67 440 800" fill="none" stroke="#b4b4b4" stroke-width="8" stroke-linecap="round"/><path d="M240 600C250 615 285 663.33 300 690C315 716.67 324 741.67 330 760C336 778.33 335 793.33 336 800" fill="none" stroke="#b4b4b4" stroke-width="8" stroke-linecap="round"/><path d="M470 610C465 625 450.83 673.33 440 700C429.17 726.67 411.67 753.33 405 770C398.33 786.67 400.83 795 400 800" fill="none" stroke="#b4b4b4" stroke-width="8" stroke-linecap="round"/><path d="M178 398L592 432L575 522L135 490Z" fill="#595959" stroke="#1c1c1c" stroke-width="6" stroke-linejoin="round"/><path d="M205 402L227 404L225 420L203 418Z" fill="#2a2a2a"/><path d="M252 405.9L274 407.9L272 423.9L250 421.9Z" fill="#2a2a2a"/><path d="M299 409.8L321 411.8L319 427.8L297 425.8Z" fill="#2a2a2a"/><path d="M346 413.7L368 415.7L366 431.7L344 429.7Z" fill="#2a2a2a"/><path d="M393 417.6L415 419.6L413 435.6L391 433.6Z" fill="#2a2a2a"/><path d="M440 421.5L462 423.5L460 439.5L438 437.5Z" fill="#2a2a2a"/><path d="M487 425.4L509 427.4L507 443.4L485 441.4Z" fill="#2a2a2a"/><path d="M534 429.3L556 431.3L554 447.3L532 445.3Z" fill="#2a2a2a"/><path d="M575 522L592 432L612 470L612 560Z" fill="#333" stroke="#1c1c1c" stroke-width="4"/><path d="M612 560L602 668L575 655L580 540Z" fill="#3a3a3a" stroke="#1c1c1c" stroke-width="4"/></g></g>
<g clip-path="url(#cr3)"><g transform="translate(118 293.5) scale(0.14736)" ><path d="M865 85L905 315L900 368L855 612L838 608L868 365L872 318Z" fill="#8c8c8c" stroke="#262626" stroke-width="8" stroke-linejoin="round"/><path d="M300 35L865 85L905 315L85 232Z" fill="#ababab" stroke="#262626" stroke-width="8" stroke-linejoin="round"/><path d="M85 232L905 315L900 368L42 278Z" fill="#b9b9b9" stroke="#262626" stroke-width="7" stroke-linejoin="round"/><path d="M42 278L900 368L855 612L150 490L60 300Z" fill="#b7b7b7" stroke="#262626" stroke-width="8" stroke-linejoin="round"/><path d="M845 470L880 478L855 608L822 602Z" fill="#a0a0a0" stroke="#555" stroke-width="3"/><path d="M42 278L900 368" fill="none" stroke="#262626" stroke-width="9"/><path d="M335 128L415 135.2L399 183.2L319 176Z" fill="none" stroke="#ececec" stroke-width="7"/><path d="M420 136L496 142.84L480 188.84L404 182Z" fill="none" stroke="#ececec" stroke-width="7"/><ellipse cx="547" cy="171" rx="57" ry="27" fill="#ececec" transform="rotate(5 547 171)"/><path d="M656 162L778 172.98L762 224.98L640 214Z" fill="none" stroke="#ececec" stroke-width="7"/><g font-weight="bold" fill="#ececec" font-size="50" stroke="#ececec" stroke-width="2"><text transform="matrix(1 0.09 -0.34 0.95 346 172)">E</text><text transform="matrix(1 0.09 -0.34 0.95 428 180)">C</text><text transform="matrix(1 0.09 -0.34 0.95 686 209)">S</text><text transform="matrix(1 0.09 -0.34 0.95 532 186)" fill="#8a8a8a" font-size="40">P</text><text transform="matrix(0.3 -0.9 0.9 0.3 268 172)" font-size="20">ECS</text><text transform="matrix(1 0.09 -0.34 0.95 792 188)" font-size="30">+</text></g><circle cx="733" cy="528" r="11.5" fill="#d0d0d0" stroke="#262626" stroke-width="4.5"/><circle cx="793" cy="543" r="11.5" fill="#d0d0d0" stroke="#262626" stroke-width="4.5"/><path d="M130 362L168 360L168 412L138 412Z" fill="#d9d9d9" stroke="#262626" stroke-width="4"/><path d="M168 335L578 375L578 422L168 380Z" fill="#dcdcdc" stroke="#262626" stroke-width="4"/><path d="M578 366L636 376L632 590L610 586L610 430L578 422Z" fill="#cfcfcf" stroke="#262626" stroke-width="4"/><path d="M135 490L575 522L612 560L602 668L560 652L545 612L330 596L205 606L155 588Z" fill="#464646" stroke="#1c1c1c" stroke-width="6" stroke-linejoin="round"/><path d="M160 560L590 600L590 640L505 712L448 800L288 800L250 690Z" fill="#3c3c3c"/><path d="M165 530C168.33 540 172.5 571.67 185 590C197.5 608.33 223.33 619.17 240 640C256.67 660.83 274.67 688.33 285 715C295.33 741.67 299.17 785.83 302 800" fill="none" stroke="#2a2a2a" stroke-width="12" stroke-linecap="round"/><path d="M215 535C217.5 545.83 220 580.5 230 600C240 619.5 261.33 631.67 275 652C288.67 672.33 303.83 697.33 312 722C320.17 746.67 322 787 324 800" fill="none" stroke="#2a2a2a" stroke-width="12" stroke-linecap="round"/><path d="M265 540C267.17 551 268.5 586 278 606C287.5 626 310.67 639.33 322 660C333.33 680.67 341.67 706.67 346 730C350.33 753.33 347.67 788.33 348 800" fill="none" stroke="#2a2a2a" stroke-width="12" stroke-linecap="round"/><path d="M318 545C320 556.17 321.67 592.5 330 612C338.33 631.5 359.67 642.33 368 662C376.33 681.67 379 707 380 730C381 753 375 788.33 374 800" fill="none" stroke="#2a2a2a" stroke-width="12" stroke-linecap="round"/><path d="M372 548C375.33 559.17 385.67 594.67 392 615C398.33 635.33 408.67 649.5 410 670C411.33 690.5 402.67 716.33 400 738C397.33 759.67 395 789.67 394 800" fill="none" stroke="#2a2a2a" stroke-width="12" stroke-linecap="round"/><path d="M425 552C429.5 563.33 447.83 598.67 452 620C456.17 641.33 455 660 450 680C445 700 428.33 720 422 740C415.67 760 413.67 790 412 800" fill="none" stroke="#2a2a2a" stroke-width="12" stroke-linecap="round"/><path d="M480 556C484.67 567.5 506.67 602.67 508 625C509.33 647.33 498 669.5 488 690C478 710.5 458.33 729.67 448 748C437.67 766.33 429.67 791.33 426 800" fill="none" stroke="#2a2a2a" stroke-width="12" stroke-linecap="round"/><path d="M535 560C538.5 572.5 558.5 611.67 556 635C553.5 658.33 535.67 679.83 520 700C504.33 720.17 475.33 739.33 462 756C448.67 772.67 443.67 792.67 440 800" fill="none" stroke="#2a2a2a" stroke-width="12" stroke-linecap="round"/><path d="M240 600C250 615 285 663.33 300 690C315 716.67 324 741.67 330 760C336 778.33 335 793.33 336 800" fill="none" stroke="#2a2a2a" stroke-width="12" stroke-linecap="round"/><path d="M470 610C465 625 450.83 673.33 440 700C429.17 726.67 411.67 753.33 405 770C398.33 786.67 400.83 795 400 800" fill="none" stroke="#2a2a2a" stroke-width="12" stroke-linecap="round"/><path d="M165 530C168.33 540 172.5 571.67 185 590C197.5 608.33 223.33 619.17 240 640C256.67 660.83 274.67 688.33 285 715C295.33 741.67 299.17 785.83 302 800" fill="none" stroke="#b4b4b4" stroke-width="8" stroke-linecap="round"/><path d="M215 535C217.5 545.83 220 580.5 230 600C240 619.5 261.33 631.67 275 652C288.67 672.33 303.83 697.33 312 722C320.17 746.67 322 787 324 800" fill="none" stroke="#b4b4b4" stroke-width="8" stroke-linecap="round"/><path d="M265 540C267.17 551 268.5 586 278 606C287.5 626 310.67 639.33 322 660C333.33 680.67 341.67 706.67 346 730C350.33 753.33 347.67 788.33 348 800" fill="none" stroke="#b4b4b4" stroke-width="8" stroke-linecap="round"/><path d="M318 545C320 556.17 321.67 592.5 330 612C338.33 631.5 359.67 642.33 368 662C376.33 681.67 379 707 380 730C381 753 375 788.33 374 800" fill="none" stroke="#b4b4b4" stroke-width="8" stroke-linecap="round"/><path d="M372 548C375.33 559.17 385.67 594.67 392 615C398.33 635.33 408.67 649.5 410 670C411.33 690.5 402.67 716.33 400 738C397.33 759.67 395 789.67 394 800" fill="none" stroke="#b4b4b4" stroke-width="8" stroke-linecap="round"/><path d="M425 552C429.5 563.33 447.83 598.67 452 620C456.17 641.33 455 660 450 680C445 700 428.33 720 422 740C415.67 760 413.67 790 412 800" fill="none" stroke="#b4b4b4" stroke-width="8" stroke-linecap="round"/><path d="M480 556C484.67 567.5 506.67 602.67 508 625C509.33 647.33 498 669.5 488 690C478 710.5 458.33 729.67 448 748C437.67 766.33 429.67 791.33 426 800" fill="none" stroke="#b4b4b4" stroke-width="8" stroke-linecap="round"/><path d="M535 560C538.5 572.5 558.5 611.67 556 635C553.5 658.33 535.67 679.83 520 700C504.33 720.17 475.33 739.33 462 756C448.67 772.67 443.67 792.67 440 800" fill="none" stroke="#b4b4b4" stroke-width="8" stroke-linecap="round"/><path d="M240 600C250 615 285 663.33 300 690C315 716.67 324 741.67 330 760C336 778.33 335 793.33 336 800" fill="none" stroke="#b4b4b4" stroke-width="8" stroke-linecap="round"/><path d="M470 610C465 625 450.83 673.33 440 700C429.17 726.67 411.67 753.33 405 770C398.33 786.67 400.83 795 400 800" fill="none" stroke="#b4b4b4" stroke-width="8" stroke-linecap="round"/><path d="M178 398L592 432L575 522L135 490Z" fill="#595959" stroke="#1c1c1c" stroke-width="6" stroke-linejoin="round"/><path d="M205 402L227 404L225 420L203 418Z" fill="#2a2a2a"/><path d="M252 405.9L274 407.9L272 423.9L250 421.9Z" fill="#2a2a2a"/><path d="M299 409.8L321 411.8L319 427.8L297 425.8Z" fill="#2a2a2a"/><path d="M346 413.7L368 415.7L366 431.7L344 429.7Z" fill="#2a2a2a"/><path d="M393 417.6L415 419.6L413 435.6L391 433.6Z" fill="#2a2a2a"/><path d="M440 421.5L462 423.5L460 439.5L438 437.5Z" fill="#2a2a2a"/><path d="M487 425.4L509 427.4L507 443.4L485 441.4Z" fill="#2a2a2a"/><path d="M534 429.3L556 431.3L554 447.3L532 445.3Z" fill="#2a2a2a"/><path d="M575 522L592 432L612 470L612 560Z" fill="#333" stroke="#1c1c1c" stroke-width="4"/><path d="M612 560L602 668L575 655L580 540Z" fill="#3a3a3a" stroke="#1c1c1c" stroke-width="4"/></g></g>
<g clip-path="url(#cr4a)"><g transform="translate(117 415.5) scale(0.14736)" ><path d="M865 85L905 315L900 368L855 612L838 608L868 365L872 318Z" fill="#8c8c8c" stroke="#262626" stroke-width="8" stroke-linejoin="round"/><path d="M300 35L865 85L905 315L85 232Z" fill="#ababab" stroke="#262626" stroke-width="8" stroke-linejoin="round"/><path d="M85 232L905 315L900 368L42 278Z" fill="#b9b9b9" stroke="#262626" stroke-width="7" stroke-linejoin="round"/><path d="M42 278L900 368L855 612L150 490L60 300Z" fill="#b7b7b7" stroke="#262626" stroke-width="8" stroke-linejoin="round"/><path d="M845 470L880 478L855 608L822 602Z" fill="#a0a0a0" stroke="#555" stroke-width="3"/><path d="M42 278L900 368" fill="none" stroke="#262626" stroke-width="9"/><path d="M335 128L415 135.2L399 183.2L319 176Z" fill="none" stroke="#ececec" stroke-width="7"/><path d="M420 136L496 142.84L480 188.84L404 182Z" fill="none" stroke="#ececec" stroke-width="7"/><ellipse cx="547" cy="171" rx="57" ry="27" fill="#ececec" transform="rotate(5 547 171)"/><path d="M656 162L778 172.98L762 224.98L640 214Z" fill="none" stroke="#ececec" stroke-width="7"/><g font-weight="bold" fill="#ececec" font-size="50" stroke="#ececec" stroke-width="2"><text transform="matrix(1 0.09 -0.34 0.95 346 172)">E</text><text transform="matrix(1 0.09 -0.34 0.95 428 180)">C</text><text transform="matrix(1 0.09 -0.34 0.95 686 209)">S</text><text transform="matrix(1 0.09 -0.34 0.95 532 186)" fill="#8a8a8a" font-size="40">P</text><text transform="matrix(0.3 -0.9 0.9 0.3 268 172)" font-size="20">ECS</text><text transform="matrix(1 0.09 -0.34 0.95 792 188)" font-size="30">+</text></g><circle cx="733" cy="528" r="11.5" fill="#d0d0d0" stroke="#262626" stroke-width="4.5"/><circle cx="793" cy="543" r="11.5" fill="#d0d0d0" stroke="#262626" stroke-width="4.5"/><path d="M130 362L168 360L168 412L138 412Z" fill="#d9d9d9" stroke="#262626" stroke-width="4"/><path d="M168 335L578 375L578 422L168 380Z" fill="#dcdcdc" stroke="#262626" stroke-width="4"/><path d="M578 366L636 376L632 590L610 586L610 430L578 422Z" fill="#cfcfcf" stroke="#262626" stroke-width="4"/><path d="M135 490L575 522L612 560L602 668L560 652L545 612L330 596L205 606L155 588Z" fill="#464646" stroke="#1c1c1c" stroke-width="6" stroke-linejoin="round"/><path d="M160 560L590 600L590 640L505 712L448 800L288 800L250 690Z" fill="#3c3c3c"/><path d="M165 530C168.33 540 172.5 571.67 185 590C197.5 608.33 223.33 619.17 240 640C256.67 660.83 274.67 688.33 285 715C295.33 741.67 299.17 785.83 302 800" fill="none" stroke="#2a2a2a" stroke-width="12" stroke-linecap="round"/><path d="M215 535C217.5 545.83 220 580.5 230 600C240 619.5 261.33 631.67 275 652C288.67 672.33 303.83 697.33 312 722C320.17 746.67 322 787 324 800" fill="none" stroke="#2a2a2a" stroke-width="12" stroke-linecap="round"/><path d="M265 540C267.17 551 268.5 586 278 606C287.5 626 310.67 639.33 322 660C333.33 680.67 341.67 706.67 346 730C350.33 753.33 347.67 788.33 348 800" fill="none" stroke="#2a2a2a" stroke-width="12" stroke-linecap="round"/><path d="M318 545C320 556.17 321.67 592.5 330 612C338.33 631.5 359.67 642.33 368 662C376.33 681.67 379 707 380 730C381 753 375 788.33 374 800" fill="none" stroke="#2a2a2a" stroke-width="12" stroke-linecap="round"/><path d="M372 548C375.33 559.17 385.67 594.67 392 615C398.33 635.33 408.67 649.5 410 670C411.33 690.5 402.67 716.33 400 738C397.33 759.67 395 789.67 394 800" fill="none" stroke="#2a2a2a" stroke-width="12" stroke-linecap="round"/><path d="M425 552C429.5 563.33 447.83 598.67 452 620C456.17 641.33 455 660 450 680C445 700 428.33 720 422 740C415.67 760 413.67 790 412 800" fill="none" stroke="#2a2a2a" stroke-width="12" stroke-linecap="round"/><path d="M480 556C484.67 567.5 506.67 602.67 508 625C509.33 647.33 498 669.5 488 690C478 710.5 458.33 729.67 448 748C437.67 766.33 429.67 791.33 426 800" fill="none" stroke="#2a2a2a" stroke-width="12" stroke-linecap="round"/><path d="M535 560C538.5 572.5 558.5 611.67 556 635C553.5 658.33 535.67 679.83 520 700C504.33 720.17 475.33 739.33 462 756C448.67 772.67 443.67 792.67 440 800" fill="none" stroke="#2a2a2a" stroke-width="12" stroke-linecap="round"/><path d="M240 600C250 615 285 663.33 300 690C315 716.67 324 741.67 330 760C336 778.33 335 793.33 336 800" fill="none" stroke="#2a2a2a" stroke-width="12" stroke-linecap="round"/><path d="M470 610C465 625 450.83 673.33 440 700C429.17 726.67 411.67 753.33 405 770C398.33 786.67 400.83 795 400 800" fill="none" stroke="#2a2a2a" stroke-width="12" stroke-linecap="round"/><path d="M165 530C168.33 540 172.5 571.67 185 590C197.5 608.33 223.33 619.17 240 640C256.67 660.83 274.67 688.33 285 715C295.33 741.67 299.17 785.83 302 800" fill="none" stroke="#b4b4b4" stroke-width="8" stroke-linecap="round"/><path d="M215 535C217.5 545.83 220 580.5 230 600C240 619.5 261.33 631.67 275 652C288.67 672.33 303.83 697.33 312 722C320.17 746.67 322 787 324 800" fill="none" stroke="#b4b4b4" stroke-width="8" stroke-linecap="round"/><path d="M265 540C267.17 551 268.5 586 278 606C287.5 626 310.67 639.33 322 660C333.33 680.67 341.67 706.67 346 730C350.33 753.33 347.67 788.33 348 800" fill="none" stroke="#b4b4b4" stroke-width="8" stroke-linecap="round"/><path d="M318 545C320 556.17 321.67 592.5 330 612C338.33 631.5 359.67 642.33 368 662C376.33 681.67 379 707 380 730C381 753 375 788.33 374 800" fill="none" stroke="#b4b4b4" stroke-width="8" stroke-linecap="round"/><path d="M372 548C375.33 559.17 385.67 594.67 392 615C398.33 635.33 408.67 649.5 410 670C411.33 690.5 402.67 716.33 400 738C397.33 759.67 395 789.67 394 800" fill="none" stroke="#b4b4b4" stroke-width="8" stroke-linecap="round"/><path d="M425 552C429.5 563.33 447.83 598.67 452 620C456.17 641.33 455 660 450 680C445 700 428.33 720 422 740C415.67 760 413.67 790 412 800" fill="none" stroke="#b4b4b4" stroke-width="8" stroke-linecap="round"/><path d="M480 556C484.67 567.5 506.67 602.67 508 625C509.33 647.33 498 669.5 488 690C478 710.5 458.33 729.67 448 748C437.67 766.33 429.67 791.33 426 800" fill="none" stroke="#b4b4b4" stroke-width="8" stroke-linecap="round"/><path d="M535 560C538.5 572.5 558.5 611.67 556 635C553.5 658.33 535.67 679.83 520 700C504.33 720.17 475.33 739.33 462 756C448.67 772.67 443.67 792.67 440 800" fill="none" stroke="#b4b4b4" stroke-width="8" stroke-linecap="round"/><path d="M240 600C250 615 285 663.33 300 690C315 716.67 324 741.67 330 760C336 778.33 335 793.33 336 800" fill="none" stroke="#b4b4b4" stroke-width="8" stroke-linecap="round"/><path d="M470 610C465 625 450.83 673.33 440 700C429.17 726.67 411.67 753.33 405 770C398.33 786.67 400.83 795 400 800" fill="none" stroke="#b4b4b4" stroke-width="8" stroke-linecap="round"/><path d="M178 398L592 432L575 522L135 490Z" fill="#595959" stroke="#1c1c1c" stroke-width="6" stroke-linejoin="round"/><path d="M205 402L227 404L225 420L203 418Z" fill="#2a2a2a"/><path d="M252 405.9L274 407.9L272 423.9L250 421.9Z" fill="#2a2a2a"/><path d="M299 409.8L321 411.8L319 427.8L297 425.8Z" fill="#2a2a2a"/><path d="M346 413.7L368 415.7L366 431.7L344 429.7Z" fill="#2a2a2a"/><path d="M393 417.6L415 419.6L413 435.6L391 433.6Z" fill="#2a2a2a"/><path d="M440 421.5L462 423.5L460 439.5L438 437.5Z" fill="#2a2a2a"/><path d="M487 425.4L509 427.4L507 443.4L485 441.4Z" fill="#2a2a2a"/><path d="M534 429.3L556 431.3L554 447.3L532 445.3Z" fill="#2a2a2a"/><path d="M575 522L592 432L612 470L612 560Z" fill="#333" stroke="#1c1c1c" stroke-width="4"/><path d="M612 560L602 668L575 655L580 540Z" fill="#3a3a3a" stroke="#1c1c1c" stroke-width="4"/></g></g>
<g clip-path="url(#cr4b)"><g transform="translate(118 553) scale(0.14736)" ><path d="M865 85L905 315L900 368L855 612L838 608L868 365L872 318Z" fill="#8c8c8c" stroke="#262626" stroke-width="8" stroke-linejoin="round"/><path d="M300 35L865 85L905 315L85 232Z" fill="#ababab" stroke="#262626" stroke-width="8" stroke-linejoin="round"/><path d="M85 232L905 315L900 368L42 278Z" fill="#b9b9b9" stroke="#262626" stroke-width="7" stroke-linejoin="round"/><path d="M42 278L900 368L855 612L150 490L60 300Z" fill="#b7b7b7" stroke="#262626" stroke-width="8" stroke-linejoin="round"/><path d="M845 470L880 478L855 608L822 602Z" fill="#a0a0a0" stroke="#555" stroke-width="3"/><path d="M42 278L900 368" fill="none" stroke="#262626" stroke-width="9"/><path d="M335 128L415 135.2L399 183.2L319 176Z" fill="none" stroke="#ececec" stroke-width="7"/><path d="M420 136L496 142.84L480 188.84L404 182Z" fill="none" stroke="#ececec" stroke-width="7"/><ellipse cx="547" cy="171" rx="57" ry="27" fill="#ececec" transform="rotate(5 547 171)"/><path d="M656 162L778 172.98L762 224.98L640 214Z" fill="none" stroke="#ececec" stroke-width="7"/><g font-weight="bold" fill="#ececec" font-size="50" stroke="#ececec" stroke-width="2"><text transform="matrix(1 0.09 -0.34 0.95 346 172)">E</text><text transform="matrix(1 0.09 -0.34 0.95 428 180)">C</text><text transform="matrix(1 0.09 -0.34 0.95 686 209)">S</text><text transform="matrix(1 0.09 -0.34 0.95 532 186)" fill="#8a8a8a" font-size="40">P</text><text transform="matrix(0.3 -0.9 0.9 0.3 268 172)" font-size="20">ECS</text><text transform="matrix(1 0.09 -0.34 0.95 792 188)" font-size="30">+</text></g><circle cx="733" cy="528" r="11.5" fill="#d0d0d0" stroke="#262626" stroke-width="4.5"/><circle cx="793" cy="543" r="11.5" fill="#d0d0d0" stroke="#262626" stroke-width="4.5"/><path d="M136 390L172 388L172 440L144 440Z" fill="#d9d9d9" stroke="#262626" stroke-width="4"/><path d="M180 405L620 448L612 582L572 576L572 528L186 470Z" fill="#7b7b7b" stroke="#262626" stroke-width="4"/><path d="M175 365L582 402L582 448L180 408Z" fill="#dcdcdc" stroke="#262626" stroke-width="4"/><path d="M582 392L642 400L636 584L612 582L620 448L582 448Z" fill="#cfcfcf" stroke="#262626" stroke-width="4"/></g></g>
<g clip-path="url(#cr5)"><g transform="translate(119.2 701.8) scale(0.14736)" ><path d="M865 85L905 315L900 368L855 612L838 608L868 365L872 318Z" fill="#8c8c8c" stroke="#262626" stroke-width="8" stroke-linejoin="round"/><path d="M300 35L865 85L905 315L85 232Z" fill="#ababab" stroke="#262626" stroke-width="8" stroke-linejoin="round"/><path d="M85 232L905 315L900 368L42 278Z" fill="#b9b9b9" stroke="#262626" stroke-width="7" stroke-linejoin="round"/><path d="M42 278L900 368L855 612L150 490L60 300Z" fill="#b7b7b7" stroke="#262626" stroke-width="8" stroke-linejoin="round"/><path d="M845 470L880 478L855 608L822 602Z" fill="#a0a0a0" stroke="#555" stroke-width="3"/><path d="M42 278L900 368" fill="none" stroke="#262626" stroke-width="9"/><path d="M335 128L415 135.2L399 183.2L319 176Z" fill="none" stroke="#ececec" stroke-width="7"/><path d="M420 136L496 142.84L480 188.84L404 182Z" fill="none" stroke="#ececec" stroke-width="7"/><ellipse cx="547" cy="171" rx="57" ry="27" fill="#ececec" transform="rotate(5 547 171)"/><path d="M656 162L778 172.98L762 224.98L640 214Z" fill="none" stroke="#ececec" stroke-width="7"/><g font-weight="bold" fill="#ececec" font-size="50" stroke="#ececec" stroke-width="2"><text transform="matrix(1 0.09 -0.34 0.95 346 172)">E</text><text transform="matrix(1 0.09 -0.34 0.95 428 180)">C</text><text transform="matrix(1 0.09 -0.34 0.95 686 209)">S</text><text transform="matrix(1 0.09 -0.34 0.95 532 186)" fill="#8a8a8a" font-size="40">P</text><text transform="matrix(0.3 -0.9 0.9 0.3 268 172)" font-size="20">ECS</text><text transform="matrix(1 0.09 -0.34 0.95 792 188)" font-size="30">+</text></g><circle cx="733" cy="528" r="11.5" fill="#d0d0d0" stroke="#262626" stroke-width="4.5"/><circle cx="793" cy="543" r="11.5" fill="#d0d0d0" stroke="#262626" stroke-width="4.5"/><path d="M130 362L168 360L168 412L138 412Z" fill="#d9d9d9" stroke="#262626" stroke-width="4"/><path d="M168 335L578 375L578 422L168 380Z" fill="#dcdcdc" stroke="#262626" stroke-width="4"/><path d="M578 366L636 376L632 590L610 586L610 430L578 422Z" fill="#cfcfcf" stroke="#262626" stroke-width="4"/><path d="M135 490L575 522L612 560L602 668L560 652L545 612L330 596L205 606L155 588Z" fill="#464646" stroke="#1c1c1c" stroke-width="6" stroke-linejoin="round"/><path d="M160 560L590 600L590 640L505 712L448 800L288 800L250 690Z" fill="#3c3c3c"/><path d="M165 530C168.33 540 172.5 571.67 185 590C197.5 608.33 223.33 619.17 240 640C256.67 660.83 274.67 688.33 285 715C295.33 741.67 299.17 785.83 302 800" fill="none" stroke="#2a2a2a" stroke-width="12" stroke-linecap="round"/><path d="M215 535C217.5 545.83 220 580.5 230 600C240 619.5 261.33 631.67 275 652C288.67 672.33 303.83 697.33 312 722C320.17 746.67 322 787 324 800" fill="none" stroke="#2a2a2a" stroke-width="12" stroke-linecap="round"/><path d="M265 540C267.17 551 268.5 586 278 606C287.5 626 310.67 639.33 322 660C333.33 680.67 341.67 706.67 346 730C350.33 753.33 347.67 788.33 348 800" fill="none" stroke="#2a2a2a" stroke-width="12" stroke-linecap="round"/><path d="M318 545C320 556.17 321.67 592.5 330 612C338.33 631.5 359.67 642.33 368 662C376.33 681.67 379 707 380 730C381 753 375 788.33 374 800" fill="none" stroke="#2a2a2a" stroke-width="12" stroke-linecap="round"/><path d="M372 548C375.33 559.17 385.67 594.67 392 615C398.33 635.33 408.67 649.5 410 670C411.33 690.5 402.67 716.33 400 738C397.33 759.67 395 789.67 394 800" fill="none" stroke="#2a2a2a" stroke-width="12" stroke-linecap="round"/><path d="M425 552C429.5 563.33 447.83 598.67 452 620C456.17 641.33 455 660 450 680C445 700 428.33 720 422 740C415.67 760 413.67 790 412 800" fill="none" stroke="#2a2a2a" stroke-width="12" stroke-linecap="round"/><path d="M480 556C484.67 567.5 506.67 602.67 508 625C509.33 647.33 498 669.5 488 690C478 710.5 458.33 729.67 448 748C437.67 766.33 429.67 791.33 426 800" fill="none" stroke="#2a2a2a" stroke-width="12" stroke-linecap="round"/><path d="M535 560C538.5 572.5 558.5 611.67 556 635C553.5 658.33 535.67 679.83 520 700C504.33 720.17 475.33 739.33 462 756C448.67 772.67 443.67 792.67 440 800" fill="none" stroke="#2a2a2a" stroke-width="12" stroke-linecap="round"/><path d="M240 600C250 615 285 663.33 300 690C315 716.67 324 741.67 330 760C336 778.33 335 793.33 336 800" fill="none" stroke="#2a2a2a" stroke-width="12" stroke-linecap="round"/><path d="M470 610C465 625 450.83 673.33 440 700C429.17 726.67 411.67 753.33 405 770C398.33 786.67 400.83 795 400 800" fill="none" stroke="#2a2a2a" stroke-width="12" stroke-linecap="round"/><path d="M165 530C168.33 540 172.5 571.67 185 590C197.5 608.33 223.33 619.17 240 640C256.67 660.83 274.67 688.33 285 715C295.33 741.67 299.17 785.83 302 800" fill="none" stroke="#b4b4b4" stroke-width="8" stroke-linecap="round"/><path d="M215 535C217.5 545.83 220 580.5 230 600C240 619.5 261.33 631.67 275 652C288.67 672.33 303.83 697.33 312 722C320.17 746.67 322 787 324 800" fill="none" stroke="#b4b4b4" stroke-width="8" stroke-linecap="round"/><path d="M265 540C267.17 551 268.5 586 278 606C287.5 626 310.67 639.33 322 660C333.33 680.67 341.67 706.67 346 730C350.33 753.33 347.67 788.33 348 800" fill="none" stroke="#b4b4b4" stroke-width="8" stroke-linecap="round"/><path d="M318 545C320 556.17 321.67 592.5 330 612C338.33 631.5 359.67 642.33 368 662C376.33 681.67 379 707 380 730C381 753 375 788.33 374 800" fill="none" stroke="#b4b4b4" stroke-width="8" stroke-linecap="round"/><path d="M372 548C375.33 559.17 385.67 594.67 392 615C398.33 635.33 408.67 649.5 410 670C411.33 690.5 402.67 716.33 400 738C397.33 759.67 395 789.67 394 800" fill="none" stroke="#b4b4b4" stroke-width="8" stroke-linecap="round"/><path d="M425 552C429.5 563.33 447.83 598.67 452 620C456.17 641.33 455 660 450 680C445 700 428.33 720 422 740C415.67 760 413.67 790 412 800" fill="none" stroke="#b4b4b4" stroke-width="8" stroke-linecap="round"/><path d="M480 556C484.67 567.5 506.67 602.67 508 625C509.33 647.33 498 669.5 488 690C478 710.5 458.33 729.67 448 748C437.67 766.33 429.67 791.33 426 800" fill="none" stroke="#b4b4b4" stroke-width="8" stroke-linecap="round"/><path d="M535 560C538.5 572.5 558.5 611.67 556 635C553.5 658.33 535.67 679.83 520 700C504.33 720.17 475.33 739.33 462 756C448.67 772.67 443.67 792.67 440 800" fill="none" stroke="#b4b4b4" stroke-width="8" stroke-linecap="round"/><path d="M240 600C250 615 285 663.33 300 690C315 716.67 324 741.67 330 760C336 778.33 335 793.33 336 800" fill="none" stroke="#b4b4b4" stroke-width="8" stroke-linecap="round"/><path d="M470 610C465 625 450.83 673.33 440 700C429.17 726.67 411.67 753.33 405 770C398.33 786.67 400.83 795 400 800" fill="none" stroke="#b4b4b4" stroke-width="8" stroke-linecap="round"/><path d="M178 398L592 432L575 522L135 490Z" fill="#595959" stroke="#1c1c1c" stroke-width="6" stroke-linejoin="round"/><path d="M205 402L227 404L225 420L203 418Z" fill="#2a2a2a"/><path d="M252 405.9L274 407.9L272 423.9L250 421.9Z" fill="#2a2a2a"/><path d="M299 409.8L321 411.8L319 427.8L297 425.8Z" fill="#2a2a2a"/><path d="M346 413.7L368 415.7L366 431.7L344 429.7Z" fill="#2a2a2a"/><path d="M393 417.6L415 419.6L413 435.6L391 433.6Z" fill="#2a2a2a"/><path d="M440 421.5L462 423.5L460 439.5L438 437.5Z" fill="#2a2a2a"/><path d="M487 425.4L509 427.4L507 443.4L485 441.4Z" fill="#2a2a2a"/><path d="M534 429.3L556 431.3L554 447.3L532 445.3Z" fill="#2a2a2a"/><path d="M575 522L592 432L612 470L612 560Z" fill="#333" stroke="#1c1c1c" stroke-width="4"/><path d="M612 560L602 668L575 655L580 540Z" fill="#3a3a3a" stroke="#1c1c1c" stroke-width="4"/></g></g>
<path d="M226 139.8L287.4 103.6L287.4 116.8Z" fill="#e4e4e4" stroke="#2a2a2a" stroke-width="0.9" stroke-linejoin="round"/>
<path d="M234.9 142L287.4 135.8L287.4 144.3Z" fill="#e4e4e4" stroke="#2a2a2a" stroke-width="0.9" stroke-linejoin="round"/>
<path d="M226 257.8L286.4 199.6L286.4 211.4Z" fill="#e4e4e4" stroke="#2a2a2a" stroke-width="0.9" stroke-linejoin="round"/>
<path d="M226 371.3L286.4 314.7L286.4 327.4Z" fill="#e4e4e4" stroke="#2a2a2a" stroke-width="0.9" stroke-linejoin="round"/>
<path d="M225 493.3L286.3 430.9L286.3 442Z" fill="#e4e4e4" stroke="#2a2a2a" stroke-width="0.9" stroke-linejoin="round"/>
<path d="M233.9 495.5L286.3 463.4L286.3 472.6Z" fill="#e4e4e4" stroke="#2a2a2a" stroke-width="0.9" stroke-linejoin="round"/>
<path d="M234.9 633L286.3 541.6L286.3 552.1Z" fill="#e4e4e4" stroke="#2a2a2a" stroke-width="0.9" stroke-linejoin="round"/>
<path d="M236.1 781.8L287.4 740.5L287.4 750.5Z" fill="#e4e4e4" stroke="#2a2a2a" stroke-width="0.9" stroke-linejoin="round"/>
<g clip-path="url(#cr4b)"><g transform="translate(-5 34.3)"><g transform="translate(118 553) scale(0.14736)" ><path d="M135 490L575 522L612 560L602 668L560 652L545 612L330 596L205 606L155 588Z" fill="#464646" stroke="#1c1c1c" stroke-width="6" stroke-linejoin="round"/><path d="M160 560L590 600L590 640L505 712L448 800L288 800L250 690Z" fill="#3c3c3c"/><path d="M165 530C168.33 540 172.5 571.67 185 590C197.5 608.33 223.33 619.17 240 640C256.67 660.83 274.67 688.33 285 715C295.33 741.67 299.17 785.83 302 800" fill="none" stroke="#2a2a2a" stroke-width="12" stroke-linecap="round"/><path d="M215 535C217.5 545.83 220 580.5 230 600C240 619.5 261.33 631.67 275 652C288.67 672.33 303.83 697.33 312 722C320.17 746.67 322 787 324 800" fill="none" stroke="#2a2a2a" stroke-width="12" stroke-linecap="round"/><path d="M265 540C267.17 551 268.5 586 278 606C287.5 626 310.67 639.33 322 660C333.33 680.67 341.67 706.67 346 730C350.33 753.33 347.67 788.33 348 800" fill="none" stroke="#2a2a2a" stroke-width="12" stroke-linecap="round"/><path d="M318 545C320 556.17 321.67 592.5 330 612C338.33 631.5 359.67 642.33 368 662C376.33 681.67 379 707 380 730C381 753 375 788.33 374 800" fill="none" stroke="#2a2a2a" stroke-width="12" stroke-linecap="round"/><path d="M372 548C375.33 559.17 385.67 594.67 392 615C398.33 635.33 408.67 649.5 410 670C411.33 690.5 402.67 716.33 400 738C397.33 759.67 395 789.67 394 800" fill="none" stroke="#2a2a2a" stroke-width="12" stroke-linecap="round"/><path d="M425 552C429.5 563.33 447.83 598.67 452 620C456.17 641.33 455 660 450 680C445 700 428.33 720 422 740C415.67 760 413.67 790 412 800" fill="none" stroke="#2a2a2a" stroke-width="12" stroke-linecap="round"/><path d="M480 556C484.67 567.5 506.67 602.67 508 625C509.33 647.33 498 669.5 488 690C478 710.5 458.33 729.67 448 748C437.67 766.33 429.67 791.33 426 800" fill="none" stroke="#2a2a2a" stroke-width="12" stroke-linecap="round"/><path d="M535 560C538.5 572.5 558.5 611.67 556 635C553.5 658.33 535.67 679.83 520 700C504.33 720.17 475.33 739.33 462 756C448.67 772.67 443.67 792.67 440 800" fill="none" stroke="#2a2a2a" stroke-width="12" stroke-linecap="round"/><path d="M240 600C250 615 285 663.33 300 690C315 716.67 324 741.67 330 760C336 778.33 335 793.33 336 800" fill="none" stroke="#2a2a2a" stroke-width="12" stroke-linecap="round"/><path d="M470 610C465 625 450.83 673.33 440 700C429.17 726.67 411.67 753.33 405 770C398.33 786.67 400.83 795 400 800" fill="none" stroke="#2a2a2a" stroke-width="12" stroke-linecap="round"/><path d="M165 530C168.33 540 172.5 571.67 185 590C197.5 608.33 223.33 619.17 240 640C256.67 660.83 274.67 688.33 285 715C295.33 741.67 299.17 785.83 302 800" fill="none" stroke="#b4b4b4" stroke-width="8" stroke-linecap="round"/><path d="M215 535C217.5 545.83 220 580.5 230 600C240 619.5 261.33 631.67 275 652C288.67 672.33 303.83 697.33 312 722C320.17 746.67 322 787 324 800" fill="none" stroke="#b4b4b4" stroke-width="8" stroke-linecap="round"/><path d="M265 540C267.17 551 268.5 586 278 606C287.5 626 310.67 639.33 322 660C333.33 680.67 341.67 706.67 346 730C350.33 753.33 347.67 788.33 348 800" fill="none" stroke="#b4b4b4" stroke-width="8" stroke-linecap="round"/><path d="M318 545C320 556.17 321.67 592.5 330 612C338.33 631.5 359.67 642.33 368 662C376.33 681.67 379 707 380 730C381 753 375 788.33 374 800" fill="none" stroke="#b4b4b4" stroke-width="8" stroke-linecap="round"/><path d="M372 548C375.33 559.17 385.67 594.67 392 615C398.33 635.33 408.67 649.5 410 670C411.33 690.5 402.67 716.33 400 738C397.33 759.67 395 789.67 394 800" fill="none" stroke="#b4b4b4" stroke-width="8" stroke-linecap="round"/><path d="M425 552C429.5 563.33 447.83 598.67 452 620C456.17 641.33 455 660 450 680C445 700 428.33 720 422 740C415.67 760 413.67 790 412 800" fill="none" stroke="#b4b4b4" stroke-width="8" stroke-linecap="round"/><path d="M480 556C484.67 567.5 506.67 602.67 508 625C509.33 647.33 498 669.5 488 690C478 710.5 458.33 729.67 448 748C437.67 766.33 429.67 791.33 426 800" fill="none" stroke="#b4b4b4" stroke-width="8" stroke-linecap="round"/><path d="M535 560C538.5 572.5 558.5 611.67 556 635C553.5 658.33 535.67 679.83 520 700C504.33 720.17 475.33 739.33 462 756C448.67 772.67 443.67 792.67 440 800" fill="none" stroke="#b4b4b4" stroke-width="8" stroke-linecap="round"/><path d="M240 600C250 615 285 663.33 300 690C315 716.67 324 741.67 330 760C336 778.33 335 793.33 336 800" fill="none" stroke="#b4b4b4" stroke-width="8" stroke-linecap="round"/><path d="M470 610C465 625 450.83 673.33 440 700C429.17 726.67 411.67 753.33 405 770C398.33 786.67 400.83 795 400 800" fill="none" stroke="#b4b4b4" stroke-width="8" stroke-linecap="round"/><path d="M178 398L592 432L575 522L135 490Z" fill="#595959" stroke="#1c1c1c" stroke-width="6" stroke-linejoin="round"/><path d="M205 402L227 404L225 420L203 418Z" fill="#2a2a2a"/><path d="M252 405.9L274 407.9L272 423.9L250 421.9Z" fill="#2a2a2a"/><path d="M299 409.8L321 411.8L319 427.8L297 425.8Z" fill="#2a2a2a"/><path d="M346 413.7L368 415.7L366 431.7L344 429.7Z" fill="#2a2a2a"/><path d="M393 417.6L415 419.6L413 435.6L391 433.6Z" fill="#2a2a2a"/><path d="M440 421.5L462 423.5L460 439.5L438 437.5Z" fill="#2a2a2a"/><path d="M487 425.4L509 427.4L507 443.4L485 441.4Z" fill="#2a2a2a"/><path d="M534 429.3L556 431.3L554 447.3L532 445.3Z" fill="#2a2a2a"/><path d="M575 522L592 432L612 470L612 560Z" fill="#333" stroke="#1c1c1c" stroke-width="4"/><path d="M612 560L602 668L575 655L580 540Z" fill="#3a3a3a" stroke="#1c1c1c" stroke-width="4"/></g></g></g>
<g transform="translate(118 550) scale(0.14736)" ><path d="M240 465C233.33 470.83 210.83 484.17 200 500C189.17 515.83 179.67 540 175 560C170.33 580 172.5 610 172 620" fill="none" stroke="#1d1d1b" stroke-width="15"/><path d="M138 600L214 598L182 710Z" fill="#1d1d1b"/><path d="M465 712C469.17 701.67 487.17 670.33 490 650C492.83 629.67 488.33 607 482 590C475.67 573 457 555 452 548" fill="none" stroke="#1d1d1b" stroke-width="15"/><path d="M398 468L416 582L500 540Z" fill="#1d1d1b"/></g>
<path d="M176.2 531L190.9 531L190.9 539.1L198.3 539.1L183.6 556L168.8 539.1L176.2 539.1Z" fill="#1d1d1b"/>
<g transform="translate(840 70) scale(0.11579)" ><path d="M138 495C144.17 491.17 162.17 476.5 175 472C187.83 467.5 203.33 465 215 468C226.67 471 235 478 245 490C255 502 264.17 520 275 540C285.83 560 304.17 598.33 310 610C325 588.33 365 526.67 400 480C435 433.33 480 375 520 330C560 285 599.17 244.17 640 210C680.83 175.83 744.17 139.17 765 125L775 150C759.17 162.5 715.83 192.5 680 225C644.17 257.5 598.33 302.5 560 345C521.67 387.5 479.17 437.5 450 480C420.83 522.5 402.5 564.17 385 600C367.5 635.83 351.67 679.17 345 695L280 742C274.17 726.67 258.33 680.33 245 650C231.67 619.67 213.33 582.5 200 560C186.67 537.5 175.33 525.83 165 515C154.67 504.17 142.5 498.33 138 495Z" fill="#1d1d1b"/></g>
<g transform="translate(840 190.8) scale(0.11579)" ><path d="M138 495C144.17 491.17 162.17 476.5 175 472C187.83 467.5 203.33 465 215 468C226.67 471 235 478 245 490C255 502 264.17 520 275 540C285.83 560 304.17 598.33 310 610C325 588.33 365 526.67 400 480C435 433.33 480 375 520 330C560 285 599.17 244.17 640 210C680.83 175.83 744.17 139.17 765 125L775 150C759.17 162.5 715.83 192.5 680 225C644.17 257.5 598.33 302.5 560 345C521.67 387.5 479.17 437.5 450 480C420.83 522.5 402.5 564.17 385 600C367.5 635.83 351.67 679.17 345 695L280 742C274.17 726.67 258.33 680.33 245 650C231.67 619.67 213.33 582.5 200 560C186.67 537.5 175.33 525.83 165 515C154.67 504.17 142.5 498.33 138 495Z" fill="#1d1d1b"/></g>
<g transform="translate(840 299.4) scale(0.11579)" ><path d="M138 495C144.17 491.17 162.17 476.5 175 472C187.83 467.5 203.33 465 215 468C226.67 471 235 478 245 490C255 502 264.17 520 275 540C285.83 560 304.17 598.33 310 610C325 588.33 365 526.67 400 480C435 433.33 480 375 520 330C560 285 599.17 244.17 640 210C680.83 175.83 744.17 139.17 765 125L775 150C759.17 162.5 715.83 192.5 680 225C644.17 257.5 598.33 302.5 560 345C521.67 387.5 479.17 437.5 450 480C420.83 522.5 402.5 564.17 385 600C367.5 635.83 351.67 679.17 345 695L280 742C274.17 726.67 258.33 680.33 245 650C231.67 619.67 213.33 582.5 200 560C186.67 537.5 175.33 525.83 165 515C154.67 504.17 142.5 498.33 138 495Z" fill="#1d1d1b"/></g>
<rect x="287.4" y="87.4" width="83.2" height="32.8" fill="#fff" stroke="#1d1d1b" stroke-width="1.2"/>
<line x1="296.9" y1="93.7" x2="324" y2="113.2" stroke="#1d1d1b" stroke-width="1.3"/><line x1="296.9" y1="113.2" x2="323.5" y2="93.7" stroke="#1d1d1b" stroke-width="1.3"/>
<line x1="335.4" y1="112.5" x2="370" y2="112" stroke="#1d1d1b" stroke-width="1.4"/>
<rect x="287.4" y="122.5" width="84.3" height="33.1" fill="#fff" stroke="#1d1d1b" stroke-width="1.2"/>
<line x1="296.9" y1="128.7" x2="323.6" y2="148.1" stroke="#1d1d1b" stroke-width="1.3"/><line x1="296.9" y1="148.1" x2="323.1" y2="128.7" stroke="#1d1d1b" stroke-width="1.3"/>
<line x1="335.4" y1="147.7" x2="372.3" y2="147.7" stroke="#1d1d1b" stroke-width="1.6"/>
<path d="M380.8 101.15L397.3 101.15L397.3 86.75L431 115.8L397.3 144.85L397.3 130.45L380.8 130.45Z" fill="#1d1d1b"/>
<rect x="435.2" y="93" width="173.8" height="46.5" fill="#1d1d1b"/>
<rect x="646" y="74" width="83" height="82.7" fill="#fff" stroke="#1d1d1b" stroke-width="1.5"/>
<path d="M673.6 99.0A24.35 24.35 0 1 0 701.8 99.0" fill="none" stroke="#1d1d1b" stroke-width="9.8" stroke-linecap="round"/>
<line x1="687.7" y1="84.9" x2="687.7" y2="120.8" stroke="#1d1d1b" stroke-width="9.6" stroke-linecap="round"/>
<g transform="translate(845 485) scale(0.10526)" ><path d="M78 85C98.33 94.17 154.67 110.83 200 140C245.33 169.17 300 216.67 350 260C400 303.33 451.67 353.33 500 400C548.33 446.67 599.17 493.33 640 540C680.83 586.67 727.5 656.67 745 680L748 740L725 775C714.17 757.5 687.5 709.17 660 670C632.5 630.83 596.67 581.67 560 540C523.33 498.33 483.33 461.67 440 420C396.67 378.33 345 332.5 300 290C255 247.5 207 198.33 170 165C133 131.67 93.33 102.5 78 90Z" fill="#1d1d1b"/><path d="M845 145C824.17 152.5 760.83 169.17 720 190C679.17 210.83 640 236.67 600 270C560 303.33 521.67 348.33 480 390C438.33 431.67 393.33 476.67 350 520C306.67 563.33 252.5 615 220 650C187.5 685 165.83 716.67 155 730C148 750 170 780 200 760C216.67 743.33 263.33 696.67 300 660C336.67 623.33 380 581.67 420 540C460 498.33 501.67 450 540 410C578.33 370 613.33 334.17 650 300C686.67 265.83 727.5 230 760 205C792.5 180 830.83 159.17 845 150Z" fill="#1d1d1b"/></g>
<g transform="translate(844.7 599.4) scale(0.10526)" ><path d="M78 85C98.33 94.17 154.67 110.83 200 140C245.33 169.17 300 216.67 350 260C400 303.33 451.67 353.33 500 400C548.33 446.67 599.17 493.33 640 540C680.83 586.67 727.5 656.67 745 680L748 740L725 775C714.17 757.5 687.5 709.17 660 670C632.5 630.83 596.67 581.67 560 540C523.33 498.33 483.33 461.67 440 420C396.67 378.33 345 332.5 300 290C255 247.5 207 198.33 170 165C133 131.67 93.33 102.5 78 90Z" fill="#1d1d1b"/><path d="M845 145C824.17 152.5 760.83 169.17 720 190C679.17 210.83 640 236.67 600 270C560 303.33 521.67 348.33 480 390C438.33 431.67 393.33 476.67 350 520C306.67 563.33 252.5 615 220 650C187.5 685 165.83 716.67 155 730C148 750 170 780 200 760C216.67 743.33 263.33 696.67 300 660C336.67 623.33 380 581.67 420 540C460 498.33 501.67 450 540 410C578.33 370 613.33 334.17 650 300C686.67 265.83 727.5 230 760 205C792.5 180 830.83 159.17 845 150Z" fill="#1d1d1b"/></g>
<g transform="translate(845.4 720.3) scale(0.10526)" ><path d="M78 85C98.33 94.17 154.67 110.83 200 140C245.33 169.17 300 216.67 350 260C400 303.33 451.67 353.33 500 400C548.33 446.67 599.17 493.33 640 540C680.83 586.67 727.5 656.67 745 680L748 740L725 775C714.17 757.5 687.5 709.17 660 670C632.5 630.83 596.67 581.67 560 540C523.33 498.33 483.33 461.67 440 420C396.67 378.33 345 332.5 300 290C255 247.5 207 198.33 170 165C133 131.67 93.33 102.5 78 90Z" fill="#1d1d1b"/><path d="M845 145C824.17 152.5 760.83 169.17 720 190C679.17 210.83 640 236.67 600 270C560 303.33 521.67 348.33 480 390C438.33 431.67 393.33 476.67 350 520C306.67 563.33 252.5 615 220 650C187.5 685 165.83 716.67 155 730C148 750 170 780 200 760C216.67 743.33 263.33 696.67 300 660C336.67 623.33 380 581.67 420 540C460 498.33 501.67 450 540 410C578.33 370 613.33 334.17 650 300C686.67 265.83 727.5 230 760 205C792.5 180 830.83 159.17 845 150Z" fill="#1d1d1b"/></g>
<rect x="286.4" y="182.3" width="133.5" height="33.7" fill="#fff" stroke="#1d1d1b" stroke-width="1.2"/>
<path d="M335.9 209.1L345.4 209.1L345.4 189.9L410 189.9" fill="none" stroke="#1d1d1b" stroke-width="1.6" stroke-linejoin="miter"/>
<rect x="286.4" y="300.4" width="133.1" height="34.8" fill="#fff" stroke="#1d1d1b" stroke-width="1.2"/>
<path d="M326.8 326.7L331.7 326.7L331.7 307.2L343.3 307.2L343.3 326.7L354.6 326.7L354.6 307.2L367.3 307.2L367.3 326.7L378.4 326.7L378.4 307.2L391.1 307.2L391.1 326.7L402.6 326.7L402.6 307.2L415.3 307.2L415.3 326.7" fill="none" stroke="#1d1d1b" stroke-width="1.6" stroke-linejoin="miter"/>
<rect x="286.3" y="413.6" width="150.5" height="32.6" fill="#fff" stroke="#1d1d1b" stroke-width="1.2"/>
<line x1="296.5" y1="419.4" x2="322.6" y2="439" stroke="#1d1d1b" stroke-width="1.4"/><line x1="296.5" y1="439" x2="322.1" y2="419.4" stroke="#1d1d1b" stroke-width="1.4"/>
<line x1="331.2" y1="439" x2="414.1" y2="438.1" stroke="#1d1d1b" stroke-width="1.5"/>
<rect x="286.3" y="448.5" width="150.5" height="31.1" fill="#fff" stroke="#1d1d1b" stroke-width="1.2"/>
<line x1="296.5" y1="454.8" x2="322.6" y2="474" stroke="#1d1d1b" stroke-width="1.4"/><line x1="296.5" y1="474" x2="322.1" y2="454.8" stroke="#1d1d1b" stroke-width="1.4"/>
<line x1="331.2" y1="473.6" x2="416.7" y2="473.6" stroke="#1d1d1b" stroke-width="1.5"/>
<path d="M288.4 502.3L296.7 502.3L296.7 495.3L312.9 509.4L296.7 523.6L296.7 516.2L288.4 516.2Z" fill="#1d1d1b"/>
<rect x="286.3" y="525.4" width="150.5" height="32.9" fill="#fff" stroke="#1d1d1b" stroke-width="1.2"/>
<path d="M319.2 550.9L329.6 550.9L329.6 531.9L426.8 531.9" fill="none" stroke="#1d1d1b" stroke-width="1.6" stroke-linejoin="miter"/>
<path d="M438.5 522.45L456 522.45L456 507.7L488.6 537.7L456 567.7L456 552.95L438.5 552.95Z" fill="#1d1d1b"/>
<path d="M438.2 634.7L455.2 634.7L455.2 620.5L488 649.5L455.2 678.5L455.2 664.3L438.2 664.3Z" fill="#1d1d1b"/>
<rect x="287.4" y="726.6" width="134.3" height="32.9" fill="#fff" stroke="#1d1d1b" stroke-width="1.2"/>
<path d="M327.5 752.8L332.1 752.8L332.1 731.7L343 731.7L343 752.8L354.6 752.8L354.6 731.7L366.8 731.7L366.8 752.8L379.1 752.8L379.1 731.7L391.6 731.7L391.6 752.8L403.2 752.8L403.2 731.7L415.5 731.7L415.5 752.8" fill="none" stroke="#1d1d1b" stroke-width="1.6" stroke-linejoin="miter"/>
<path d="M438.2 727.5L455.3 727.5L455.3 713.25L488.4 742.2L455.3 771.15L455.3 756.9L438.2 756.9Z" fill="#1d1d1b"/>
<rect x="588.2" y="409.0" width="148.5" height="33.0" fill="#1d1d1b"/>
<rect x="588.6" y="409.7" width="259.4" height="31.9" fill="none" stroke="#1d1d1b" stroke-width="1.1"/>
<g clip-path="url(#kc1)"><g transform="translate(10 62) scale(0.10526)" ><path d="M255 10L225 330" fill="none" stroke="#777" stroke-width="4"/><path d="M645 68C624.17 69.17 560.83 67.17 520 75C479.17 82.83 438.33 95.83 400 115C361.67 134.17 320.83 164.17 290 190C259.17 215.83 235.83 246.67 215 270C194.17 293.33 173.33 320 165 330" fill="none" stroke="#262626" stroke-width="8.5"/><path d="M255 315C267.5 300.83 299.17 253.33 330 230C360.83 206.67 401.67 185.83 440 175C478.33 164.17 518.33 158.33 560 165C601.67 171.67 651.67 189.17 690 215C728.33 240.83 764.17 277.5 790 320C815.83 362.5 837.5 420 845 470C852.5 520 847.5 570 835 620C822.5 670 792.5 731.67 770 770C747.5 808.33 725 830 700 850C675 870 633.33 883.33 620 890" fill="none" stroke="#262626" stroke-width="8.5"/><path d="M400 345C413.33 337.5 451.67 309.17 480 300C508.33 290.83 536.67 283.33 570 290C603.33 296.67 650.83 315 680 340C709.17 365 731.67 403.33 745 440C758.33 476.67 764.17 520 760 560C755.83 600 740 646.67 720 680C700 713.33 670 741.67 640 760C610 778.33 556.67 785 540 790" fill="none" stroke="#262626" stroke-width="8.5"/><path d="M480 360C493.33 355.83 531.67 332.5 560 335C588.33 337.5 625.83 352.5 650 375C674.17 397.5 695 437.5 705 470C715 502.5 715.83 536.67 710 570C704.17 603.33 688.33 643.33 670 670C651.67 696.67 611.67 720 600 730" fill="none" stroke="#262626" stroke-width="6.8"/><path d="M470 420C481.67 415.83 516.67 393.33 540 395C563.33 396.67 591.67 410.83 610 430C628.33 449.17 643.33 481.67 650 510C656.67 538.33 658.33 570 650 600C641.67 630 608.33 675 600 690" fill="none" stroke="#262626" stroke-width="8.5"/><path d="M500 460C510 458.33 543.33 443.33 560 450C576.67 456.67 592.5 480 600 500C607.5 520 610 546.67 605 570C600 593.33 575.83 628.33 570 640" fill="none" stroke="#262626" stroke-width="8.5"/><path d="M505 495L545 490L572 570L530 578Z" fill="#c8c8c8" stroke="#262626" stroke-width="8.5"/><path d="M160 790C165 798.33 179.17 826.67 190 840C200.83 853.33 219.17 865 225 870" fill="none" stroke="#262626" stroke-width="8.5"/><path d="M410 830C416.67 835 436.67 852.5 450 860C463.33 867.5 483.33 872.5 490 875" fill="none" stroke="#262626" stroke-width="8.5"/><path d="M130 690C126.67 705 113.33 750 110 780C106.67 810 110 855 110 870" fill="none" stroke="#262626" stroke-width="8.5"/><path d="M165 720C161.67 733.33 147.5 775 145 800C142.5 825 149.17 858.33 150 870" fill="none" stroke="#262626" stroke-width="8.5"/><path d="M95 400C101.67 383.33 112.5 362.5 130 350C147.5 337.5 171.67 329.17 200 325C228.33 320.83 266.67 320.83 300 325C333.33 329.17 371.67 335.83 400 350C428.33 364.17 450 381.67 470 410C490 438.33 505 481.67 520 520C535 558.33 554.17 610 560 640C565.83 670 565 681.67 555 700C545 718.33 522.5 735 500 750C477.5 765 448.33 780 420 790C391.67 800 355 808.33 330 810C305 811.67 291.67 810 270 800C248.33 790 221.67 773.33 200 750C178.33 726.67 156.67 695 140 660C123.33 625 108.33 575 100 540C91.67 505 90.83 473.33 90 450C89.17 426.67 88.33 416.67 95 400Z" fill="#e6e6e6" stroke="#262626" stroke-width="8.5"/><path d="M95 400C104.17 370.83 130 345 150 345C170 345 190 357.5 215 400C240 442.5 278.33 540 300 600C321.67 660 341.67 726.67 345 760C348.33 793.33 330 792 320 800C310 808 305 816.33 285 808C265 799.67 225.83 778 200 750C174.17 722 147.5 678.33 130 640C112.5 601.67 100.83 560 95 520C89.17 480 85.83 429.17 95 400Z" fill="#f3f3f3"/><path d="M150 345C160.83 354.17 190 357.5 215 400C240 442.5 278.33 540 300 600C321.67 660 341.67 726.67 345 760C348.33 793.33 324.17 793.33 320 800" fill="none" stroke="#262626" stroke-width="8.5"/><path d="M128 400C134.17 394.67 149.33 360.5 165 368C180.67 375.5 199.5 396.33 222 445C244.5 493.67 283.33 607.17 300 660C316.67 712.83 318.33 745 322 762" fill="none" stroke="#262626" stroke-width="6.8"/><path d="M128 400C128.33 420 119.67 473.33 130 520C140.33 566.67 168.33 638.33 190 680C211.67 721.67 241.67 751.67 260 770C278.33 788.33 293.33 786.67 300 790" fill="none" stroke="#262626" stroke-width="6.8"/><path d="M160 390C164.5 385 171.67 378.33 185 400C198.33 421.67 222.5 478.33 240 520C257.5 561.67 280.33 624.67 290 650C299.67 675.33 302.67 670.33 298 672C293.33 673.67 278.33 682 262 660C245.67 638 217.33 578.33 200 540C182.67 501.67 164.67 455 158 430C151.33 405 155.5 395 160 390Z" fill="#b4b4b4" stroke="#262626" stroke-width="6.8"/><path d="M330 810C345 803.33 391.67 785 420 770C448.33 755 477.5 738.33 500 720C522.5 701.67 545.83 670 555 660" fill="none" stroke="#262626" stroke-width="6.8"/><path d="M262 690C270.33 688.67 293.67 671.67 312 682C330.33 692.33 356.5 720.33 372 752C387.5 783.67 399.5 852 405 872" fill="none" stroke="#262626" stroke-width="44" stroke-linecap="butt"/><path d="M262 690C270.33 688.67 293.67 671.67 312 682C330.33 692.33 356.5 720.33 372 752C387.5 783.67 399.5 852 405 872" fill="none" stroke="#fff" stroke-width="28" stroke-linecap="butt"/></g></g><text transform="translate(48.6 94.6) rotate(-33)" font-size="8.2" font-weight="bold" fill="#1d1d1b" textLength="15.5" lengthAdjust="spacingAndGlyphs">OFF</text>
<use href="#keyon"/>
<use href="#keyon" transform="translate(0 114.6)"/>
<use href="#keyon" transform="translate(4.7 294.7)"/>
<g clip-path="url(#kc5)"><use href="#keyon" transform="translate(1.6 530.3)"/></g>
<use href="#car"/><use href="#car" transform="translate(14 115)"/>
<use href="#trbox"/><g transform="translate(655 210) scale(0.21053)" ><path d="M95 226L322 232L322 248L95 246Z" fill="#5a5a5a" stroke="#333" stroke-width="3"/><path d="M45 240C45 235 49.17 226.67 55 222C60.83 217.33 71.67 212 80 212C88.33 212 100 216 105 222C110 228 113.33 242.33 110 248C106.67 253.67 94.17 255.33 85 256C75.83 256.67 61.67 254.67 55 252C48.33 249.33 45 245 45 240Z" fill="#4a4a4a" stroke="#222" stroke-width="3"/><path d="M105 224L135 224L135 250L105 250Z" fill="#777" stroke="#333" stroke-width="3"/><path d="M160 228C166.67 225.33 185.83 212.33 200 212C214.17 211.67 237.5 223.67 245 226" fill="none" stroke="#555" stroke-width="5"/><path d="M146 192L160 192L160 300L146 300Z" fill="#eee" stroke="#444" stroke-width="3"/><path d="M148 178L186 174L186 184L150 190Z" fill="#ccc" stroke="#444" stroke-width="3"/><path d="M146 298C147 301.33 147.17 313.33 152 318C156.83 322.67 167 325.33 175 326C183 326.67 195.83 322.67 200 322" fill="none" stroke="#555" stroke-width="5"/><circle cx="220" cy="320" r="19" fill="#555" stroke="#222" stroke-width="4"/><circle cx="220" cy="320" r="7" fill="#ccc"/></g>
<g transform="translate(717.1 335.8) scale(1.0558 1.0649) translate(-722.4 -225.2)"><use href="#trbox"/></g>
<g transform="translate(655 320) scale(0.21053)" ><path d="M60 240L296 250L296 268L60 262Z" fill="#5a5a5a" stroke="#333" stroke-width="3"/><path d="M60 236L98 238L98 266L60 264Z" fill="#777" stroke="#333" stroke-width="3"/><path d="M110 200L126 200L126 246L110 246Z" fill="#eee" stroke="#444" stroke-width="3"/><path d="M120 190C120.67 186.33 134.67 179.67 140 180C145.33 180.33 152.67 188.33 152 192C151.33 195.67 141.33 202.33 136 202C130.67 201.67 119.33 193.67 120 190Z" fill="#ccc" stroke="#444" stroke-width="3"/><path d="M130 228C136.67 227 155.83 220 170 222C184.17 224 207.5 237 215 240" fill="none" stroke="#555" stroke-width="5"/><path d="M108 266C108.67 269.33 107.5 280.67 112 286C116.5 291.33 126.17 296.67 135 298C143.83 299.33 160 294.67 165 294" fill="none" stroke="#555" stroke-width="6"/><circle cx="186" cy="290" r="20" fill="#555" stroke="#222" stroke-width="4"/><circle cx="186" cy="290" r="7" fill="#ccc"/></g>
<g transform="translate(550 436) scale(0.14736)" ><path d="M285 222C289.17 211.67 297.5 180.33 310 160C322.5 139.67 340.83 118 360 100C379.17 82 414.17 60 425 52" fill="none" stroke="#1d1d1b" stroke-width="24"/><path d="M285 222C289.17 211.67 297.5 180.33 310 160C322.5 139.67 340.83 118 360 100C379.17 82 414.17 60 425 52" fill="none" stroke="#fff" stroke-width="12"/><path d="M440 52C450 60 484.17 80.33 500 100C515.83 119.67 527 145.33 535 170C543 194.67 545.83 235 548 248" fill="none" stroke="#1d1d1b" stroke-width="27" stroke-linecap="round"/><path d="M795 410C790.83 421.67 785.83 448.33 770 480C754.17 511.67 728.33 560 700 600C671.67 640 636.67 680 600 720C563.33 760 521.67 805 480 840C438.33 875 383.33 905.83 350 930C316.67 954.17 291.67 975.83 280 985" fill="none" stroke="#1d1d1b" stroke-width="27" stroke-linecap="round"/><path d="M460 450C450 461.67 421.67 493.33 400 520C378.33 546.67 348.33 583.33 330 610C311.67 636.67 295 655 290 680C285 705 310 740 300 760C290 780 248.33 785 230 800C211.67 815 195 833.33 190 850C185 866.67 211.67 888.33 200 900C188.33 911.67 139.17 910 120 920C100.83 930 90.83 953.33 85 960" fill="none" stroke="#1d1d1b" stroke-width="27" stroke-linecap="round"/><path d="M270 460C276.67 476.67 296.67 523.33 310 560C323.33 596.67 348.33 653.33 350 680C351.67 706.67 336.67 709.17 320 720C303.33 730.83 259.67 731.67 250 745C240.33 758.33 264.5 782.5 262 800C259.5 817.5 252 838.67 235 850C218 861.33 176.67 853.83 160 868C143.33 882.17 155 916.33 135 935C115 953.67 55.83 972.5 40 980" fill="none" stroke="#1d1d1b" stroke-width="22"/><path d="M270 460C276.67 476.67 296.67 523.33 310 560C323.33 596.67 348.33 653.33 350 680C351.67 706.67 336.67 709.17 320 720C303.33 730.83 259.67 731.67 250 745C240.33 758.33 264.5 782.5 262 800C259.5 817.5 252 838.67 235 850C218 861.33 176.67 853.83 160 868C143.33 882.17 155 916.33 135 935C115 953.67 55.83 972.5 40 980" fill="none" stroke="#fff" stroke-width="10"/><path d="M185 460C187.5 483.33 194.17 543.33 200 600C205.83 656.67 210.83 735.83 220 800C229.17 864.17 249.17 954.17 255 985" fill="none" stroke="#1d1d1b" stroke-width="22"/><path d="M185 460C187.5 483.33 194.17 543.33 200 600C205.83 656.67 210.83 735.83 220 800C229.17 864.17 249.17 954.17 255 985" fill="none" stroke="#fff" stroke-width="10"/><path d="M125 268L150 245L195 232L215 222L240 228L270 215L300 222L335 222L362 268L352 440L300 472L250 478L160 462L108 398Z" fill="#dedede" stroke="#1d1d1b" stroke-width="7" stroke-linejoin="round"/><path d="M125 268L318 250L335 222" fill="none" stroke="#1d1d1b" stroke-width="5"/><path d="M318 250L330 440" fill="none" stroke="#1d1d1b" stroke-width="5"/><path d="M160 455C163.33 449.17 170.83 426.67 180 420C189.17 413.33 205 410 215 415C225 420 232.17 450 240 450C247.83 450 252.83 421.33 262 415C271.17 408.67 285.67 406.17 295 412C304.33 417.83 314.17 443.67 318 450" fill="none" stroke="#1d1d1b" stroke-width="8"/><path d="M168 465C171.33 460 180.17 440.5 188 435C195.83 429.5 207.67 427.5 215 432C222.33 436.5 229.17 457 232 462" fill="none" stroke="#1d1d1b" stroke-width="5"/><path d="M405 375L470 250L520 245L545 238L580 248L610 240L640 250L680 270L690 310L650 470L600 490L420 440Z" fill="#dedede" stroke="#1d1d1b" stroke-width="7" stroke-linejoin="round"/><path d="M405 375L620 395L686 285" fill="none" stroke="#1d1d1b" stroke-width="5"/><path d="M620 395L640 475" fill="none" stroke="#1d1d1b" stroke-width="5"/><path d="M440 440C443 435 449.67 415.33 458 410C466.33 404.67 481.33 402.17 490 408C498.67 413.83 503.33 443.83 510 445C516.67 446.17 520.83 419.5 530 415C539.17 410.5 555.83 408.83 565 418C574.17 427.17 581.67 461.33 585 470" fill="none" stroke="#1d1d1b" stroke-width="8"/><path d="M500 480C503.33 475.83 512.5 459.67 520 455C527.5 450.33 538.33 447 545 452C551.67 457 557.5 479.5 560 485" fill="none" stroke="#1d1d1b" stroke-width="6"/></g>
<circle cx="652.4" cy="504.1" r="31.2" fill="none" stroke="#1d1d1b" stroke-width="1.7" stroke-dasharray="1.7 1.9"/>
<g clip-path="url(#cr4w)"><g transform="translate(740 436) scale(0.14736)" ><path d="M540 50C540.83 58.33 550 83.33 545 100C540 116.67 527.5 135.83 510 150C492.5 164.17 463.33 168.33 440 185C416.67 201.67 391.67 223.33 370 250C348.33 276.67 320 329.17 310 345" fill="none" stroke="#1d1d1b" stroke-width="27" stroke-linecap="round"/><path d="M545 45C532.5 47.5 485 49.17 470 60C455 70.83 451.67 90.83 455 110C458.33 129.17 475 153.33 490 175C505 196.67 530 217.5 545 240C560 262.5 572.17 285.83 580 310C587.83 334.17 590 372.5 592 385" fill="none" stroke="#1d1d1b" stroke-width="22"/><path d="M545 45C532.5 47.5 485 49.17 470 60C455 70.83 451.67 90.83 455 110C458.33 129.17 475 153.33 490 175C505 196.67 530 217.5 545 240C560 262.5 572.17 285.83 580 310C587.83 334.17 590 372.5 592 385" fill="none" stroke="#fff" stroke-width="10"/><path d="M500 600C490 613.33 461.67 655 440 680C418.33 705 391.67 730 370 750C348.33 770 321.67 783.33 310 800C298.33 816.67 298.33 835.83 300 850C301.67 864.17 320 870 320 885C320 900 308.33 923.33 300 940C291.67 956.67 275 977.5 270 985" fill="none" stroke="#1d1d1b" stroke-width="21"/><path d="M500 600C490 613.33 461.67 655 440 680C418.33 705 391.67 730 370 750C348.33 770 321.67 783.33 310 800C298.33 816.67 298.33 835.83 300 850C301.67 864.17 320 870 320 885C320 900 308.33 923.33 300 940C291.67 956.67 275 977.5 270 985" fill="none" stroke="#fff" stroke-width="9"/><path d="M290 600C296.67 616.67 316.67 666.67 330 700C343.33 733.33 361.67 773.33 370 800C378.33 826.67 385 845 380 860C375 875 358.33 883.33 340 890C321.67 896.67 285 884.17 270 900C255 915.83 253.33 970.83 250 985" fill="none" stroke="#1d1d1b" stroke-width="27" stroke-linecap="round"/><path d="M575 620C569.17 636.67 554.17 681.67 540 720C525.83 758.33 510 805.83 490 850C470 894.17 431.67 962.5 420 985" fill="none" stroke="#1d1d1b" stroke-width="27" stroke-linecap="round"/><path d="M200 590C200.83 608.33 202.5 656.67 205 700C207.5 743.33 210 802.5 215 850C220 897.5 231.67 962.5 235 985" fill="none" stroke="#1d1d1b" stroke-width="22"/><path d="M200 590C200.83 608.33 202.5 656.67 205 700C207.5 743.33 210 802.5 215 850C220 897.5 231.67 962.5 235 985" fill="none" stroke="#fff" stroke-width="10"/><path d="M130 540L150 395L215 365L245 355L275 360L300 348L340 350L370 360L398 420L395 560L330 610L250 620L160 590Z" fill="#dedede" stroke="#1d1d1b" stroke-width="7" stroke-linejoin="round"/><path d="M130 540L372 552L396 425" fill="none" stroke="#1d1d1b" stroke-width="5"/><path d="M165 585C168.33 580 175.83 560.5 185 555C194.17 549.5 210 546.17 220 552C230 557.83 237 589.5 245 590C253 590.5 258 560.83 268 555C278 549.17 294.67 547.5 305 555C315.33 562.5 325.83 592.5 330 600" fill="none" stroke="#1d1d1b" stroke-width="8"/><path d="M440 520L500 390L560 380L590 385L620 378L660 380L700 395L740 430L735 480L700 620L640 640L450 580Z" fill="#dedede" stroke="#1d1d1b" stroke-width="7" stroke-linejoin="round"/><path d="M440 520L690 545L738 435" fill="none" stroke="#1d1d1b" stroke-width="5"/><path d="M690 545L700 620" fill="none" stroke="#1d1d1b" stroke-width="5"/><path d="M470 585C473.33 580 480.83 560.5 490 555C499.17 549.5 515.33 545.83 525 552C534.67 558.17 540.5 590.67 548 592C555.5 593.33 560.5 565 570 560C579.5 555 595 551.17 605 562C615 572.83 625.83 614.5 630 625" fill="none" stroke="#1d1d1b" stroke-width="8"/><path d="M130 672C122.5 680 96.33 702 85 720C73.67 738 62 759.17 62 780C62 800.83 62 825 85 845C108 865 147.5 885.5 200 900C252.5 914.5 340 930.33 400 932C460 933.67 517.5 922.83 560 910C602.5 897.17 635 874.17 655 855C675 835.83 680 815 680 795C680 775 661.67 748.33 655 735C648.33 721.67 642.5 718.33 640 715" fill="none" stroke="#1d1d1b" stroke-width="9"/><path d="M168 634L92 660L142 708Z" fill="#1d1d1b"/><path d="M604 678L668 710L615 748Z" fill="#1d1d1b"/></g></g>
<circle cx="775.1" cy="526.6" r="21" fill="none" stroke="#1d1d1b" stroke-width="1.3" stroke-dasharray="1.3 1.4"/>
<circle cx="824.7" cy="529.6" r="20.6" fill="none" stroke="#1d1d1b" stroke-width="1.3" stroke-dasharray="1.3 1.4"/>
<rect x="588.2" y="409.0" width="148.5" height="33.0" fill="#1d1d1b"/>
<rect x="736.7" y="409.7" width="111.3" height="31.9" fill="#fff" stroke="#1d1d1b" stroke-width="1.1"/>
<path d="M572.1 558.3L562.7 524L562.7 541Z" fill="#e4e4e4" stroke="#2a2a2a" stroke-width="0.9" stroke-linejoin="round"/>
<path d="M586.8 570.8L663.3 562.4L663.3 571.4Z" fill="#e4e4e4" stroke="#2a2a2a" stroke-width="0.9" stroke-linejoin="round"/>
<rect x="491.4" y="498.3" width="71.3" height="44" fill="#fff" stroke="#1d1d1b" stroke-width="1.3"/>
<g transform="translate(395.5 459.5) scale(0.25)"><use href="#car"/></g>
<rect x="663.3" y="532.4" width="72.2" height="44.9" fill="#fff" stroke="#1d1d1b" stroke-width="1.3"/>
<g transform="translate(419.6 461.7) scale(0.37)"><use href="#trbox"/><g transform="translate(655 210) scale(0.21053)" ><path d="M95 226L322 232L322 248L95 246Z" fill="#5a5a5a" stroke="#333" stroke-width="3"/><path d="M45 240C45 235 49.17 226.67 55 222C60.83 217.33 71.67 212 80 212C88.33 212 100 216 105 222C110 228 113.33 242.33 110 248C106.67 253.67 94.17 255.33 85 256C75.83 256.67 61.67 254.67 55 252C48.33 249.33 45 245 45 240Z" fill="#4a4a4a" stroke="#222" stroke-width="3"/><path d="M105 224L135 224L135 250L105 250Z" fill="#777" stroke="#333" stroke-width="3"/><path d="M160 228C166.67 225.33 185.83 212.33 200 212C214.17 211.67 237.5 223.67 245 226" fill="none" stroke="#555" stroke-width="5"/><path d="M146 192L160 192L160 300L146 300Z" fill="#eee" stroke="#444" stroke-width="3"/><path d="M148 178L186 174L186 184L150 190Z" fill="#ccc" stroke="#444" stroke-width="3"/><path d="M146 298C147 301.33 147.17 313.33 152 318C156.83 322.67 167 325.33 175 326C183 326.67 195.83 322.67 200 322" fill="none" stroke="#555" stroke-width="5"/><circle cx="220" cy="320" r="19" fill="#555" stroke="#222" stroke-width="4"/><circle cx="220" cy="320" r="7" fill="#ccc"/></g></g>
<line x1="389" y1="583.2" x2="940" y2="583.2" stroke="#1d1d1b" stroke-width="1.7" stroke-dasharray="1.7 1.7"/>
<rect x="498.4" y="588.4" width="260" height="26.8" fill="#fff" stroke="#1d1d1b" stroke-width="1.2"/>
<circle cx="515.5" cy="601.9" r="12.3" fill="#1d1d1b"/><line x1="515.25" y1="592.55" x2="515.25" y2="604.85" stroke="#fff" stroke-width="0.98"/><line x1="508.86" y1="604.61" x2="521.9" y2="604.61" stroke="#fff" stroke-width="1.11"/><line x1="511.07" y1="607.56" x2="519.68" y2="607.56" stroke="#fff" stroke-width="0.98"/><line x1="513.53" y1="610.02" x2="517.22" y2="610.02" stroke="#fff" stroke-width="0.98"/>
<use href="#batt"/>
<circle cx="521.1" cy="643.6" r="4.9" fill="#1d1d1b"/>
<path d="M522.4 643L522.4 689.2L790 689.2" fill="none" stroke="#1d1d1b" stroke-width="2.5" stroke-linejoin="miter"/>
<rect x="592.6" y="628.2" width="71.6" height="60.6" fill="#fff" stroke="#1d1d1b" stroke-width="1.6"/>
<circle cx="618.5" cy="653" r="17.4" fill="#1d1d1b"/><line x1="618.15" y1="639.78" x2="618.15" y2="657.18" stroke="#fff" stroke-width="1.39"/><line x1="609.1" y1="656.83" x2="627.55" y2="656.83" stroke="#fff" stroke-width="1.57"/><line x1="612.24" y1="661" x2="624.42" y2="661" stroke="#fff" stroke-width="1.39"/><line x1="615.72" y1="664.48" x2="620.94" y2="664.48" stroke="#fff" stroke-width="1.39"/>
<line x1="640.9" y1="667.2" x2="657.1" y2="684.3" stroke="#1d1d1b" stroke-width="1"/><line x1="640.9" y1="684.3" x2="656.6" y2="667.2" stroke="#1d1d1b" stroke-width="1"/>
<rect x="669.3" y="628.2" width="70.6" height="60.6" fill="#fff" stroke="#1d1d1b" stroke-width="1.6"/>
<g transform="translate(585 620) scale(0.17367)" ><path d="M590 205L648 198L628 88L680 175L712 128L715 195L752 185L718 222L700 235L672 236L655 226Z" fill="#fff" stroke="#1d1d1b" stroke-width="4.5" stroke-linejoin="miter"/><path d="M487 245C505.83 245 572.83 246.17 600 245C627.17 243.83 638.67 241.33 650 238C661.33 234.67 665 227.17 668 225" fill="none" stroke="#1d1d1b" stroke-width="14"/><path d="M893 245C870.83 245 789.17 245.83 760 245C730.83 244.17 727.67 242.83 718 240C708.33 237.17 704.67 230 702 228" fill="none" stroke="#1d1d1b" stroke-width="14"/></g>
<line x1="713.5" y1="666.9" x2="730.5" y2="684.6" stroke="#1d1d1b" stroke-width="1"/><line x1="713.5" y1="684.6" x2="730" y2="666.9" stroke="#1d1d1b" stroke-width="1"/>
<line x1="790" y1="689.2" x2="790" y2="682" stroke="#1d1d1b" stroke-width="2.5"/>
<rect x="499.1" y="710.4" width="260.5" height="27.1" fill="#fff" stroke="#1d1d1b" stroke-width="1.2"/>
<use href="#batt" transform="translate(0.5 125.7)"/>
<circle cx="556.7" cy="763.5" r="4.7" fill="#1d1d1b"/>
<path d="M557.6 763L557.6 814L788 814" fill="none" stroke="#1d1d1b" stroke-width="2.4" stroke-linejoin="miter"/>
<rect x="592" y="753.2" width="71.2" height="60.4" fill="#fff" stroke="#1d1d1b" stroke-width="1.6"/>
<line x1="636.8" y1="791.9" x2="654.8" y2="808" stroke="#1d1d1b" stroke-width="1"/><line x1="636.8" y1="808" x2="654.3" y2="791.9" stroke="#1d1d1b" stroke-width="1"/>
<rect x="667.8" y="751.9" width="71.6" height="61.3" fill="#fff" stroke="#1d1d1b" stroke-width="1.6"/>
<g transform="translate(583.4 744.9) scale(0.17367)" ><path d="M590 205L648 198L628 88L680 175L712 128L715 195L752 185L718 222L700 235L672 236L655 226Z" fill="#fff" stroke="#1d1d1b" stroke-width="4.5" stroke-linejoin="miter"/><path d="M487 245C505.83 245 572.83 246.17 600 245C627.17 243.83 638.67 241.33 650 238C661.33 234.67 665 227.17 668 225" fill="none" stroke="#1d1d1b" stroke-width="14"/><path d="M893 245C870.83 245 789.17 245.83 760 245C730.83 244.17 727.67 242.83 718 240C708.33 237.17 704.67 230 702 228" fill="none" stroke="#1d1d1b" stroke-width="14"/></g>
<line x1="713" y1="791.6" x2="730" y2="808" stroke="#1d1d1b" stroke-width="1"/><line x1="713" y1="808" x2="729.5" y2="791.6" stroke="#1d1d1b" stroke-width="1"/>
<g transform="translate(490 700) scale(0.18947)" ><path d="M598 462C590.67 469 594.83 486.17 596 500C597.17 513.83 599.33 537 605 545C610.67 553 624.17 555.5 630 548C635.83 540.5 638.33 515 640 500C641.67 485 647 464.33 640 458C633 451.67 605.33 455 598 462Z" fill="#fff" stroke="#2a2a2a" stroke-width="5"/><path d="M712 452C705 459.5 712.33 477 714 490C715.67 503 716.83 523.67 722 530C727.17 536.33 739.67 534.67 745 528C750.33 521.33 752.17 503.83 754 490C755.83 476.17 763 451.33 756 445C749 438.67 719 444.5 712 452Z" fill="#fff" stroke="#2a2a2a" stroke-width="5"/><path d="M600 375L762 355L760 445L602 465Z" fill="#f4f4f4" stroke="#2a2a2a" stroke-width="5" stroke-linejoin="round"/><path d="M590 345C591.67 338.83 585 332.5 600 328C615 323.5 655 320.33 680 318C705 315.67 735.33 312.83 750 314C764.67 315.17 765.5 319 768 325C770.5 331 776.33 343.33 765 350C753.67 356.67 726.67 360.33 700 365C673.33 369.67 623.33 378 605 378C586.67 378 592.5 370.5 590 365C587.5 359.5 588.33 351.17 590 345Z" fill="#e4e4e4" stroke="#2a2a2a" stroke-width="5"/><path d="M640 400C642.5 402.5 654.17 410.33 655 415C655.83 419.67 646.67 425.83 645 428" fill="none" stroke="#2a2a2a" stroke-width="6"/><path d="M705 392C706.17 395 708.17 405.67 712 410C715.83 414.33 725.33 416.67 728 418" fill="none" stroke="#2a2a2a" stroke-width="6"/><path d="M618 340L740 328" fill="none" stroke="#777" stroke-width="6"/><circle cx="622" cy="395" r="6" fill="#666"/><circle cx="740" cy="380" r="6" fill="#666"/><circle cx="624" cy="438" r="6" fill="#666"/><circle cx="742" cy="420" r="6" fill="#666"/></g>
<g clip-path="url(#crs4)"><g transform="translate(682.2 571) scale(0.625)"><g transform="translate(118 62) scale(0.14736)" ><path d="M865 85L905 315L900 368L855 612L838 608L868 365L872 318Z" fill="#8c8c8c" stroke="#262626" stroke-width="8" stroke-linejoin="round"/><path d="M300 35L865 85L905 315L85 232Z" fill="#ababab" stroke="#262626" stroke-width="8" stroke-linejoin="round"/><path d="M85 232L905 315L900 368L42 278Z" fill="#b9b9b9" stroke="#262626" stroke-width="7" stroke-linejoin="round"/><path d="M42 278L900 368L855 612L150 490L60 300Z" fill="#b7b7b7" stroke="#262626" stroke-width="8" stroke-linejoin="round"/><path d="M845 470L880 478L855 608L822 602Z" fill="#a0a0a0" stroke="#555" stroke-width="3"/><path d="M42 278L900 368" fill="none" stroke="#262626" stroke-width="9"/><path d="M335 128L415 135.2L399 183.2L319 176Z" fill="none" stroke="#ececec" stroke-width="7"/><path d="M420 136L496 142.84L480 188.84L404 182Z" fill="none" stroke="#ececec" stroke-width="7"/><ellipse cx="547" cy="171" rx="57" ry="27" fill="#ececec" transform="rotate(5 547 171)"/><path d="M656 162L778 172.98L762 224.98L640 214Z" fill="none" stroke="#ececec" stroke-width="7"/><g font-weight="bold" fill="#ececec" font-size="50" stroke="#ececec" stroke-width="2"><text transform="matrix(1 0.09 -0.34 0.95 346 172)">E</text><text transform="matrix(1 0.09 -0.34 0.95 428 180)">C</text><text transform="matrix(1 0.09 -0.34 0.95 686 209)">S</text><text transform="matrix(1 0.09 -0.34 0.95 532 186)" fill="#8a8a8a" font-size="40">P</text><text transform="matrix(0.3 -0.9 0.9 0.3 268 172)" font-size="20">ECS</text><text transform="matrix(1 0.09 -0.34 0.95 792 188)" font-size="30">+</text></g><circle cx="733" cy="528" r="11.5" fill="#d0d0d0" stroke="#262626" stroke-width="4.5"/><circle cx="793" cy="543" r="11.5" fill="#d0d0d0" stroke="#262626" stroke-width="4.5"/><path d="M130 362L168 360L168 412L138 412Z" fill="#d9d9d9" stroke="#262626" stroke-width="4"/><path d="M168 335L578 375L578 422L168 380Z" fill="#dcdcdc" stroke="#262626" stroke-width="4"/><path d="M578 366L636 376L632 590L610 586L610 430L578 422Z" fill="#cfcfcf" stroke="#262626" stroke-width="4"/><path d="M135 490L575 522L612 560L602 668L560 652L545 612L330 596L205 606L155 588Z" fill="#464646" stroke="#1c1c1c" stroke-width="6" stroke-linejoin="round"/><path d="M160 560L590 600L590 640L505 712L448 800L288 800L250 690Z" fill="#3c3c3c"/><path d="M165 530C168.33 540 172.5 571.67 185 590C197.5 608.33 223.33 619.17 240 640C256.67 660.83 274.67 688.33 285 715C295.33 741.67 299.17 785.83 302 800" fill="none" stroke="#2a2a2a" stroke-width="12" stroke-linecap="round"/><path d="M215 535C217.5 545.83 220 580.5 230 600C240 619.5 261.33 631.67 275 652C288.67 672.33 303.83 697.33 312 722C320.17 746.67 322 787 324 800" fill="none" stroke="#2a2a2a" stroke-width="12" stroke-linecap="round"/><path d="M265 540C267.17 551 268.5 586 278 606C287.5 626 310.67 639.33 322 660C333.33 680.67 341.67 706.67 346 730C350.33 753.33 347.67 788.33 348 800" fill="none" stroke="#2a2a2a" stroke-width="12" stroke-linecap="round"/><path d="M318 545C320 556.17 321.67 592.5 330 612C338.33 631.5 359.67 642.33 368 662C376.33 681.67 379 707 380 730C381 753 375 788.33 374 800" fill="none" stroke="#2a2a2a" stroke-width="12" stroke-linecap="round"/><path d="M372 548C375.33 559.17 385.67 594.67 392 615C398.33 635.33 408.67 649.5 410 670C411.33 690.5 402.67 716.33 400 738C397.33 759.67 395 789.67 394 800" fill="none" stroke="#2a2a2a" stroke-width="12" stroke-linecap="round"/><path d="M425 552C429.5 563.33 447.83 598.67 452 620C456.17 641.33 455 660 450 680C445 700 428.33 720 422 740C415.67 760 413.67 790 412 800" fill="none" stroke="#2a2a2a" stroke-width="12" stroke-linecap="round"/><path d="M480 556C484.67 567.5 506.67 602.67 508 625C509.33 647.33 498 669.5 488 690C478 710.5 458.33 729.67 448 748C437.67 766.33 429.67 791.33 426 800" fill="none" stroke="#2a2a2a" stroke-width="12" stroke-linecap="round"/><path d="M535 560C538.5 572.5 558.5 611.67 556 635C553.5 658.33 535.67 679.83 520 700C504.33 720.17 475.33 739.33 462 756C448.67 772.67 443.67 792.67 440 800" fill="none" stroke="#2a2a2a" stroke-width="12" stroke-linecap="round"/><path d="M240 600C250 615 285 663.33 300 690C315 716.67 324 741.67 330 760C336 778.33 335 793.33 336 800" fill="none" stroke="#2a2a2a" stroke-width="12" stroke-linecap="round"/><path d="M470 610C465 625 450.83 673.33 440 700C429.17 726.67 411.67 753.33 405 770C398.33 786.67 400.83 795 400 800" fill="none" stroke="#2a2a2a" stroke-width="12" stroke-linecap="round"/><path d="M165 530C168.33 540 172.5 571.67 185 590C197.5 608.33 223.33 619.17 240 640C256.67 660.83 274.67 688.33 285 715C295.33 741.67 299.17 785.83 302 800" fill="none" stroke="#b4b4b4" stroke-width="8" stroke-linecap="round"/><path d="M215 535C217.5 545.83 220 580.5 230 600C240 619.5 261.33 631.67 275 652C288.67 672.33 303.83 697.33 312 722C320.17 746.67 322 787 324 800" fill="none" stroke="#b4b4b4" stroke-width="8" stroke-linecap="round"/><path d="M265 540C267.17 551 268.5 586 278 606C287.5 626 310.67 639.33 322 660C333.33 680.67 341.67 706.67 346 730C350.33 753.33 347.67 788.33 348 800" fill="none" stroke="#b4b4b4" stroke-width="8" stroke-linecap="round"/><path d="M318 545C320 556.17 321.67 592.5 330 612C338.33 631.5 359.67 642.33 368 662C376.33 681.67 379 707 380 730C381 753 375 788.33 374 800" fill="none" stroke="#b4b4b4" stroke-width="8" stroke-linecap="round"/><path d="M372 548C375.33 559.17 385.67 594.67 392 615C398.33 635.33 408.67 649.5 410 670C411.33 690.5 402.67 716.33 400 738C397.33 759.67 395 789.67 394 800" fill="none" stroke="#b4b4b4" stroke-width="8" stroke-linecap="round"/><path d="M425 552C429.5 563.33 447.83 598.67 452 620C456.17 641.33 455 660 450 680C445 700 428.33 720 422 740C415.67 760 413.67 790 412 800" fill="none" stroke="#b4b4b4" stroke-width="8" stroke-linecap="round"/><path d="M480 556C484.67 567.5 506.67 602.67 508 625C509.33 647.33 498 669.5 488 690C478 710.5 458.33 729.67 448 748C437.67 766.33 429.67 791.33 426 800" fill="none" stroke="#b4b4b4" stroke-width="8" stroke-linecap="round"/><path d="M535 560C538.5 572.5 558.5 611.67 556 635C553.5 658.33 535.67 679.83 520 700C504.33 720.17 475.33 739.33 462 756C448.67 772.67 443.67 792.67 440 800" fill="none" stroke="#b4b4b4" stroke-width="8" stroke-linecap="round"/><path d="M240 600C250 615 285 663.33 300 690C315 716.67 324 741.67 330 760C336 778.33 335 793.33 336 800" fill="none" stroke="#b4b4b4" stroke-width="8" stroke-linecap="round"/><path d="M470 610C465 625 450.83 673.33 440 700C429.17 726.67 411.67 753.33 405 770C398.33 786.67 400.83 795 400 800" fill="none" stroke="#b4b4b4" stroke-width="8" stroke-linecap="round"/><path d="M178 398L592 432L575 522L135 490Z" fill="#595959" stroke="#1c1c1c" stroke-width="6" stroke-linejoin="round"/><path d="M205 402L227 404L225 420L203 418Z" fill="#2a2a2a"/><path d="M252 405.9L274 407.9L272 423.9L250 421.9Z" fill="#2a2a2a"/><path d="M299 409.8L321 411.8L319 427.8L297 425.8Z" fill="#2a2a2a"/><path d="M346 413.7L368 415.7L366 431.7L344 429.7Z" fill="#2a2a2a"/><path d="M393 417.6L415 419.6L413 435.6L391 433.6Z" fill="#2a2a2a"/><path d="M440 421.5L462 423.5L460 439.5L438 437.5Z" fill="#2a2a2a"/><path d="M487 425.4L509 427.4L507 443.4L485 441.4Z" fill="#2a2a2a"/><path d="M534 429.3L556 431.3L554 447.3L532 445.3Z" fill="#2a2a2a"/><path d="M575 522L592 432L612 470L612 560Z" fill="#333" stroke="#1c1c1c" stroke-width="4"/><path d="M612 560L602 668L575 655L580 540Z" fill="#3a3a3a" stroke="#1c1c1c" stroke-width="4"/></g></g></g>
<g clip-path="url(#crs5)"><g transform="translate(683.6 696.4) scale(0.625)"><g transform="translate(118 62) scale(0.14736)" ><path d="M865 85L905 315L900 368L855 612L838 608L868 365L872 318Z" fill="#8c8c8c" stroke="#262626" stroke-width="8" stroke-linejoin="round"/><path d="M300 35L865 85L905 315L85 232Z" fill="#ababab" stroke="#262626" stroke-width="8" stroke-linejoin="round"/><path d="M85 232L905 315L900 368L42 278Z" fill="#b9b9b9" stroke="#262626" stroke-width="7" stroke-linejoin="round"/><path d="M42 278L900 368L855 612L150 490L60 300Z" fill="#b7b7b7" stroke="#262626" stroke-width="8" stroke-linejoin="round"/><path d="M845 470L880 478L855 608L822 602Z" fill="#a0a0a0" stroke="#555" stroke-width="3"/><path d="M42 278L900 368" fill="none" stroke="#262626" stroke-width="9"/><path d="M335 128L415 135.2L399 183.2L319 176Z" fill="none" stroke="#ececec" stroke-width="7"/><path d="M420 136L496 142.84L480 188.84L404 182Z" fill="none" stroke="#ececec" stroke-width="7"/><ellipse cx="547" cy="171" rx="57" ry="27" fill="#ececec" transform="rotate(5 547 171)"/><path d="M656 162L778 172.98L762 224.98L640 214Z" fill="none" stroke="#ececec" stroke-width="7"/><g font-weight="bold" fill="#ececec" font-size="50" stroke="#ececec" stroke-width="2"><text transform="matrix(1 0.09 -0.34 0.95 346 172)">E</text><text transform="matrix(1 0.09 -0.34 0.95 428 180)">C</text><text transform="matrix(1 0.09 -0.34 0.95 686 209)">S</text><text transform="matrix(1 0.09 -0.34 0.95 532 186)" fill="#8a8a8a" font-size="40">P</text><text transform="matrix(0.3 -0.9 0.9 0.3 268 172)" font-size="20">ECS</text><text transform="matrix(1 0.09 -0.34 0.95 792 188)" font-size="30">+</text></g><circle cx="733" cy="528" r="11.5" fill="#d0d0d0" stroke="#262626" stroke-width="4.5"/><circle cx="793" cy="543" r="11.5" fill="#d0d0d0" stroke="#262626" stroke-width="4.5"/><path d="M130 362L168 360L168 412L138 412Z" fill="#d9d9d9" stroke="#262626" stroke-width="4"/><path d="M168 335L578 375L578 422L168 380Z" fill="#dcdcdc" stroke="#262626" stroke-width="4"/><path d="M578 366L636 376L632 590L610 586L610 430L578 422Z" fill="#cfcfcf" stroke="#262626" stroke-width="4"/><path d="M135 490L575 522L612 560L602 668L560 652L545 612L330 596L205 606L155 588Z" fill="#464646" stroke="#1c1c1c" stroke-width="6" stroke-linejoin="round"/><path d="M160 560L590 600L590 640L505 712L448 800L288 800L250 690Z" fill="#3c3c3c"/><path d="M165 530C168.33 540 172.5 571.67 185 590C197.5 608.33 223.33 619.17 240 640C256.67 660.83 274.67 688.33 285 715C295.33 741.67 299.17 785.83 302 800" fill="none" stroke="#2a2a2a" stroke-width="12" stroke-linecap="round"/><path d="M215 535C217.5 545.83 220 580.5 230 600C240 619.5 261.33 631.67 275 652C288.67 672.33 303.83 697.33 312 722C320.17 746.67 322 787 324 800" fill="none" stroke="#2a2a2a" stroke-width="12" stroke-linecap="round"/><path d="M265 540C267.17 551 268.5 586 278 606C287.5 626 310.67 639.33 322 660C333.33 680.67 341.67 706.67 346 730C350.33 753.33 347.67 788.33 348 800" fill="none" stroke="#2a2a2a" stroke-width="12" stroke-linecap="round"/><path d="M318 545C320 556.17 321.67 592.5 330 612C338.33 631.5 359.67 642.33 368 662C376.33 681.67 379 707 380 730C381 753 375 788.33 374 800" fill="none" stroke="#2a2a2a" stroke-width="12" stroke-linecap="round"/><path d="M372 548C375.33 559.17 385.67 594.67 392 615C398.33 635.33 408.67 649.5 410 670C411.33 690.5 402.67 716.33 400 738C397.33 759.67 395 789.67 394 800" fill="none" stroke="#2a2a2a" stroke-width="12" stroke-linecap="round"/><path d="M425 552C429.5 563.33 447.83 598.67 452 620C456.17 641.33 455 660 450 680C445 700 428.33 720 422 740C415.67 760 413.67 790 412 800" fill="none" stroke="#2a2a2a" stroke-width="12" stroke-linecap="round"/><path d="M480 556C484.67 567.5 506.67 602.67 508 625C509.33 647.33 498 669.5 488 690C478 710.5 458.33 729.67 448 748C437.67 766.33 429.67 791.33 426 800" fill="none" stroke="#2a2a2a" stroke-width="12" stroke-linecap="round"/><path d="M535 560C538.5 572.5 558.5 611.67 556 635C553.5 658.33 535.67 679.83 520 700C504.33 720.17 475.33 739.33 462 756C448.67 772.67 443.67 792.67 440 800" fill="none" stroke="#2a2a2a" stroke-width="12" stroke-linecap="round"/><path d="M240 600C250 615 285 663.33 300 690C315 716.67 324 741.67 330 760C336 778.33 335 793.33 336 800" fill="none" stroke="#2a2a2a" stroke-width="12" stroke-linecap="round"/><path d="M470 610C465 625 450.83 673.33 440 700C429.17 726.67 411.67 753.33 405 770C398.33 786.67 400.83 795 400 800" fill="none" stroke="#2a2a2a" stroke-width="12" stroke-linecap="round"/><path d="M165 530C168.33 540 172.5 571.67 185 590C197.5 608.33 223.33 619.17 240 640C256.67 660.83 274.67 688.33 285 715C295.33 741.67 299.17 785.83 302 800" fill="none" stroke="#b4b4b4" stroke-width="8" stroke-linecap="round"/><path d="M215 535C217.5 545.83 220 580.5 230 600C240 619.5 261.33 631.67 275 652C288.67 672.33 303.83 697.33 312 722C320.17 746.67 322 787 324 800" fill="none" stroke="#b4b4b4" stroke-width="8" stroke-linecap="round"/><path d="M265 540C267.17 551 268.5 586 278 606C287.5 626 310.67 639.33 322 660C333.33 680.67 341.67 706.67 346 730C350.33 753.33 347.67 788.33 348 800" fill="none" stroke="#b4b4b4" stroke-width="8" stroke-linecap="round"/><path d="M318 545C320 556.17 321.67 592.5 330 612C338.33 631.5 359.67 642.33 368 662C376.33 681.67 379 707 380 730C381 753 375 788.33 374 800" fill="none" stroke="#b4b4b4" stroke-width="8" stroke-linecap="round"/><path d="M372 548C375.33 559.17 385.67 594.67 392 615C398.33 635.33 408.67 649.5 410 670C411.33 690.5 402.67 716.33 400 738C397.33 759.67 395 789.67 394 800" fill="none" stroke="#b4b4b4" stroke-width="8" stroke-linecap="round"/><path d="M425 552C429.5 563.33 447.83 598.67 452 620C456.17 641.33 455 660 450 680C445 700 428.33 720 422 740C415.67 760 413.67 790 412 800" fill="none" stroke="#b4b4b4" stroke-width="8" stroke-linecap="round"/><path d="M480 556C484.67 567.5 506.67 602.67 508 625C509.33 647.33 498 669.5 488 690C478 710.5 458.33 729.67 448 748C437.67 766.33 429.67 791.33 426 800" fill="none" stroke="#b4b4b4" stroke-width="8" stroke-linecap="round"/><path d="M535 560C538.5 572.5 558.5 611.67 556 635C553.5 658.33 535.67 679.83 520 700C504.33 720.17 475.33 739.33 462 756C448.67 772.67 443.67 792.67 440 800" fill="none" stroke="#b4b4b4" stroke-width="8" stroke-linecap="round"/><path d="M240 600C250 615 285 663.33 300 690C315 716.67 324 741.67 330 760C336 778.33 335 793.33 336 800" fill="none" stroke="#b4b4b4" stroke-width="8" stroke-linecap="round"/><path d="M470 610C465 625 450.83 673.33 440 700C429.17 726.67 411.67 753.33 405 770C398.33 786.67 400.83 795 400 800" fill="none" stroke="#b4b4b4" stroke-width="8" stroke-linecap="round"/><path d="M178 398L592 432L575 522L135 490Z" fill="#595959" stroke="#1c1c1c" stroke-width="6" stroke-linejoin="round"/><path d="M205 402L227 404L225 420L203 418Z" fill="#2a2a2a"/><path d="M252 405.9L274 407.9L272 423.9L250 421.9Z" fill="#2a2a2a"/><path d="M299 409.8L321 411.8L319 427.8L297 425.8Z" fill="#2a2a2a"/><path d="M346 413.7L368 415.7L366 431.7L344 429.7Z" fill="#2a2a2a"/><path d="M393 417.6L415 419.6L413 435.6L391 433.6Z" fill="#2a2a2a"/><path d="M440 421.5L462 423.5L460 439.5L438 437.5Z" fill="#2a2a2a"/><path d="M487 425.4L509 427.4L507 443.4L485 441.4Z" fill="#2a2a2a"/><path d="M534 429.3L556 431.3L554 447.3L532 445.3Z" fill="#2a2a2a"/><path d="M575 522L592 432L612 470L612 560Z" fill="#333" stroke="#1c1c1c" stroke-width="4"/><path d="M612 560L602 668L575 655L580 540Z" fill="#3a3a3a" stroke="#1c1c1c" stroke-width="4"/></g></g></g>
<circle cx="790.6" cy="680.1" r="6.8" fill="#1d1d1b"/>
<circle cx="790" cy="805.6" r="7" fill="#1d1d1b"/>
</svg>
</body></html>
